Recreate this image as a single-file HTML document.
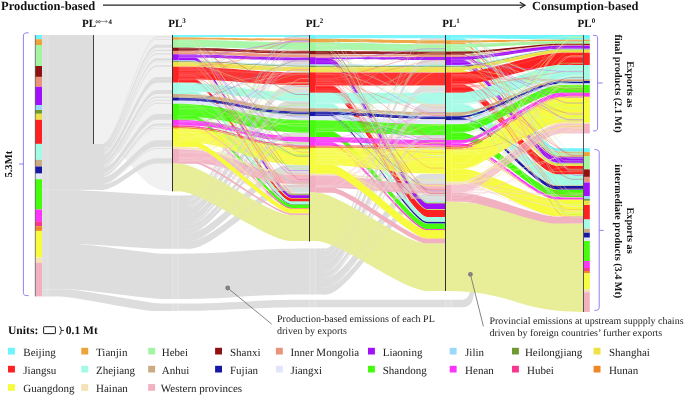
<!DOCTYPE html>
<html><head><meta charset="utf-8"><style>
html,body{margin:0;padding:0;background:#fff;}
svg{display:block;font-family:"Liberation Serif",serif;will-change:transform;text-rendering:geometricPrecision;}
</style></head><body>
<svg width="685" height="396" viewBox="0 0 685 396">
<rect width="685" height="396" fill="#fff"/>
<path d="M93.5,35 L172.5,35 L172.5,191.3 C133.0,191.30 133.0,144.00 93.5,144.00 Z" fill="#f1f1f1"/>
<rect x="42" y="35" width="51.5" height="109.2" fill="#dcdddc"/>
<rect x="42" y="144" width="62" height="45.8" fill="#dcdddc"/>
<path d="M98.0,144.00 L102.0,144.00 C118.3,144.00 140.2,36.54 156.5,36.54 L172.5,36.54 L172.5,37.40 L156.5,37.40 C140.2,37.40 118.3,144.86 102.0,144.86 L98.0,144.86Z" fill="#dcdddc"/>
<path d="M98.0,144.86 L102.0,144.86 C118.3,144.86 140.2,38.88 156.5,38.88 L172.5,38.88 L172.5,39.70 L156.5,39.70 C140.2,39.70 118.3,145.68 102.0,145.68 L98.0,145.68Z" fill="#dcdddc"/>
<path d="M98.0,145.68 L102.0,145.68 C118.3,145.68 140.2,44.85 156.5,44.85 L172.5,44.85 L172.5,47.70 L156.5,47.70 C140.2,47.70 118.3,148.53 102.0,148.53 L98.0,148.53Z" fill="#dcdddc"/>
<path d="M98.0,148.53 L102.0,148.53 C118.3,148.53 140.2,49.76 156.5,49.76 L172.5,49.76 L172.5,50.90 L156.5,50.90 C140.2,50.90 118.3,149.67 102.0,149.67 L98.0,149.67Z" fill="#dcdddc"/>
<path d="M98.0,149.67 L102.0,149.67 C118.3,149.67 140.2,53.15 156.5,53.15 L172.5,53.15 L172.5,54.40 L156.5,54.40 C140.2,54.40 118.3,150.91 102.0,150.91 L98.0,150.91Z" fill="#dcdddc"/>
<path d="M98.0,150.91 L102.0,150.91 C118.3,150.91 140.2,58.26 156.5,58.26 L172.5,58.26 L172.5,60.40 L156.5,60.40 C140.2,60.40 118.3,153.05 102.0,153.05 L98.0,153.05Z" fill="#dcdddc"/>
<path d="M98.0,153.05 L102.0,153.05 C118.3,153.05 140.2,60.98 156.5,60.98 L172.5,60.98 L172.5,61.30 L156.5,61.30 C140.2,61.30 118.3,153.37 102.0,153.37 L98.0,153.37Z" fill="#dcdddc"/>
<path d="M98.0,153.37 L102.0,153.37 C118.3,153.37 140.2,61.88 156.5,61.88 L172.5,61.88 L172.5,62.20 L156.5,62.20 C140.2,62.20 118.3,153.69 102.0,153.69 L98.0,153.69Z" fill="#dcdddc"/>
<path d="M98.0,153.69 L102.0,153.69 C118.3,153.69 140.2,65.16 156.5,65.16 L172.5,65.16 L172.5,66.80 L156.5,66.80 C140.2,66.80 118.3,155.33 102.0,155.33 L98.0,155.33Z" fill="#dcdddc"/>
<path d="M98.0,155.33 L102.0,155.33 C118.3,155.33 140.2,77.03 156.5,77.03 L172.5,77.03 L172.5,82.70 L156.5,82.70 C140.2,82.70 118.3,161.00 102.0,161.00 L98.0,161.00Z" fill="#dcdddc"/>
<path d="M98.0,161.00 L102.0,161.00 C118.3,161.00 140.2,89.97 156.5,89.97 L172.5,89.97 L172.5,94.00 L156.5,94.00 C140.2,94.00 118.3,165.03 102.0,165.03 L98.0,165.03Z" fill="#dcdddc"/>
<path d="M98.0,165.03 L102.0,165.03 C118.3,165.03 140.2,96.38 156.5,96.38 L172.5,96.38 L172.5,97.70 L156.5,97.70 C140.2,97.70 118.3,166.35 102.0,166.35 L98.0,166.35Z" fill="#dcdddc"/>
<path d="M98.0,166.35 L102.0,166.35 C118.3,166.35 140.2,99.63 156.5,99.63 L172.5,99.63 L172.5,100.70 L156.5,100.70 C140.2,100.70 118.3,167.42 102.0,167.42 L98.0,167.42Z" fill="#dcdddc"/>
<path d="M98.0,167.42 L102.0,167.42 C118.3,167.42 140.2,102.70 156.5,102.70 L172.5,102.70 L172.5,103.80 L156.5,103.80 C140.2,103.80 118.3,168.52 102.0,168.52 L98.0,168.52Z" fill="#dcdddc"/>
<path d="M98.0,168.52 L102.0,168.52 C118.3,168.52 140.2,114.10 156.5,114.10 L172.5,114.10 L172.5,119.80 L156.5,119.80 C140.2,119.80 118.3,174.22 102.0,174.22 L98.0,174.22Z" fill="#dcdddc"/>
<path d="M98.0,174.22 L102.0,174.22 C118.3,174.22 140.2,123.40 156.5,123.40 L172.5,123.40 L172.5,125.40 L156.5,125.40 C140.2,125.40 118.3,176.22 102.0,176.22 L98.0,176.22Z" fill="#dcdddc"/>
<path d="M98.0,176.22 L102.0,176.22 C118.3,176.22 140.2,126.43 156.5,126.43 L172.5,126.43 L172.5,127.00 L156.5,127.00 C140.2,127.00 118.3,176.79 102.0,176.79 L98.0,176.79Z" fill="#dcdddc"/>
<path d="M98.0,176.79 L102.0,176.79 C118.3,176.79 140.2,128.03 156.5,128.03 L172.5,128.03 L172.5,128.60 L156.5,128.60 C140.2,128.60 118.3,177.36 102.0,177.36 L98.0,177.36Z" fill="#dcdddc"/>
<path d="M98.0,177.36 L102.0,177.36 C118.3,177.36 140.2,140.25 156.5,140.25 L172.5,140.25 L172.5,146.70 L156.5,146.70 C140.2,146.70 118.3,183.81 102.0,183.81 L98.0,183.81Z" fill="#dcdddc"/>
<path d="M98.0,183.81 L102.0,183.81 C118.3,183.81 140.2,148.18 156.5,148.18 L172.5,148.18 L172.5,149.00 L156.5,149.00 C140.2,149.00 118.3,184.63 102.0,184.63 L98.0,184.63Z" fill="#dcdddc"/>
<path d="M98.0,184.63 L102.0,184.63 C118.3,184.63 140.2,158.33 156.5,158.33 L172.5,158.33 L172.5,163.50 L156.5,163.50 C140.2,163.50 118.3,189.80 102.0,189.80 L98.0,189.80Z" fill="#dcdddc"/>
<path d="M42,289.6 L68,289.6 C82.1,289.60 147.9,303.60 162.0,303.60 L172,303.6 C240.5,303.60 240.5,299.80 309.0,299.80 L460,299.8 C467,299.8 470,297 470,288 L474,288 C474,300 472,307.3 462,307.3 L309,307.3 C240.5,307.30 240.5,311.00 172.0,311.00 L155,311 C140.8,311.00 74.2,296.40 60.0,296.40 L42,296.4 Z" fill="#dcdddc"/>
<path d="M42,244 L76,244 C89.3,244.00 151.7,253.80 165.0,253.80 L172,253.8 C240.5,253.80 240.5,248.60 309.0,248.60 L323,248.6 L323,294.4 L309,294.4 C240.5,294.40 240.5,299.00 172.0,299.00 L162,299 C148.5,299.00 85.5,289.60 72.0,289.60 L42,289.6 Z" fill="#dcdddc"/>
<path d="M42,189.8 L68,189.8 C83.3,189.80 154.7,195.40 170.0,195.40 L187,195.4 L187,248.7 L160,248.7 C147.4,248.70 88.6,244.00 76.0,244.00 L42,244 Z" fill="#dcdddc"/>
<rect x="172.5" y="195.6" width="6" height="53.0" fill="#fff" fill-opacity="0.07"/><line x1="172.5" y1="195.6" x2="172.5" y2="248.6" stroke="#fff" stroke-opacity="0.3" stroke-width="0.7"/><line x1="178.5" y1="195.6" x2="178.5" y2="248.6" stroke="#fff" stroke-opacity="0.3" stroke-width="0.7"/>
<rect x="172.5" y="253.9" width="6" height="44.99999999999997" fill="#fff" fill-opacity="0.07"/><line x1="172.5" y1="253.9" x2="172.5" y2="298.9" stroke="#fff" stroke-opacity="0.3" stroke-width="0.7"/><line x1="178.5" y1="253.9" x2="178.5" y2="298.9" stroke="#fff" stroke-opacity="0.3" stroke-width="0.7"/>
<rect x="172.5" y="303.7" width="6" height="7.199999999999989" fill="#fff" fill-opacity="0.07"/><line x1="172.5" y1="303.7" x2="172.5" y2="310.9" stroke="#fff" stroke-opacity="0.3" stroke-width="0.7"/><line x1="178.5" y1="303.7" x2="178.5" y2="310.9" stroke="#fff" stroke-opacity="0.3" stroke-width="0.7"/>
<rect x="309.5" y="248.8" width="6" height="45.5" fill="#fff" fill-opacity="0.07"/><line x1="309.5" y1="248.8" x2="309.5" y2="294.3" stroke="#fff" stroke-opacity="0.3" stroke-width="0.7"/><line x1="315.5" y1="248.8" x2="315.5" y2="294.3" stroke="#fff" stroke-opacity="0.3" stroke-width="0.7"/>
<rect x="309.5" y="300" width="6" height="7.199999999999989" fill="#fff" fill-opacity="0.07"/><line x1="309.5" y1="300" x2="309.5" y2="307.2" stroke="#fff" stroke-opacity="0.3" stroke-width="0.7"/><line x1="315.5" y1="300" x2="315.5" y2="307.2" stroke="#fff" stroke-opacity="0.3" stroke-width="0.7"/>
<rect x="445.5" y="299.9" width="6" height="7.2000000000000455" fill="#fff" fill-opacity="0.07"/><line x1="445.5" y1="299.9" x2="445.5" y2="307.1" stroke="#fff" stroke-opacity="0.3" stroke-width="0.7"/><line x1="451.5" y1="299.9" x2="451.5" y2="307.1" stroke="#fff" stroke-opacity="0.3" stroke-width="0.7"/>
<rect x="42" y="35" width="6" height="261.4" fill="#fff" fill-opacity="0.07"/><line x1="42" y1="35" x2="42" y2="296.4" stroke="#fff" stroke-opacity="0.3" stroke-width="0.7"/><line x1="48" y1="35" x2="48" y2="296.4" stroke="#fff" stroke-opacity="0.3" stroke-width="0.7"/>
<path d="M186.0,195.40 L190.0,195.40 C214.4,195.40 263.1,37.10 287.5,37.10 L309.5,37.10 L309.5,38.80 L287.5,38.80 C263.1,38.80 214.4,197.11 190.0,197.11 L186.0,197.11Z" fill="#dcdddc"/>
<path d="M186.0,197.11 L190.0,197.11 C214.4,197.11 263.1,40.80 287.5,40.80 L309.5,40.80 L309.5,42.40 L287.5,42.40 C263.1,42.40 214.4,198.71 190.0,198.71 L186.0,198.71Z" fill="#dcdddc"/>
<path d="M186.0,198.71 L190.0,198.71 C214.4,198.71 263.1,49.60 287.5,49.60 L309.5,49.60 L309.5,50.90 L287.5,50.90 C263.1,50.90 214.4,200.02 190.0,200.02 L186.0,200.02Z" fill="#dcdddc"/>
<path d="M186.0,200.02 L190.0,200.02 C214.4,200.02 263.1,53.80 287.5,53.80 L309.5,53.80 L309.5,54.40 L287.5,54.40 C263.1,54.40 214.4,200.62 190.0,200.62 L186.0,200.62Z" fill="#dcdddc"/>
<path d="M186.0,200.62 L190.0,200.62 C214.4,200.62 263.1,60.40 287.5,60.40 L309.5,60.40 L309.5,64.50 L287.5,64.50 C263.1,64.50 214.4,204.74 190.0,204.74 L186.0,204.74Z" fill="#dcdddc"/>
<path d="M186.0,204.74 L190.0,204.74 C214.4,204.74 263.1,65.20 287.5,65.20 L309.5,65.20 L309.5,65.80 L287.5,65.80 C263.1,65.80 214.4,205.34 190.0,205.34 L186.0,205.34Z" fill="#dcdddc"/>
<path d="M186.0,205.34 L190.0,205.34 C214.4,205.34 263.1,66.50 287.5,66.50 L309.5,66.50 L309.5,67.20 L287.5,67.20 C263.1,67.20 214.4,206.04 190.0,206.04 L186.0,206.04Z" fill="#dcdddc"/>
<path d="M186.0,206.04 L190.0,206.04 C214.4,206.04 263.1,71.40 287.5,71.40 L309.5,71.40 L309.5,72.50 L287.5,72.50 C263.1,72.50 214.4,207.14 190.0,207.14 L186.0,207.14Z" fill="#dcdddc"/>
<path d="M186.0,207.14 L190.0,207.14 C214.4,207.14 263.1,85.00 287.5,85.00 L309.5,85.00 L309.5,92.80 L287.5,92.80 C263.1,92.80 214.4,214.97 190.0,214.97 L186.0,214.97Z" fill="#dcdddc"/>
<path d="M186.0,214.97 L190.0,214.97 C214.4,214.97 263.1,101.30 287.5,101.30 L309.5,101.30 L309.5,108.30 L287.5,108.30 C263.1,108.30 214.4,222.00 190.0,222.00 L186.0,222.00Z" fill="#dcdddc"/>
<path d="M186.0,222.00 L190.0,222.00 C214.4,222.00 263.1,111.70 287.5,111.70 L309.5,111.70 L309.5,111.80 L287.5,111.80 C263.1,111.80 214.4,222.10 190.0,222.10 L186.0,222.10Z" fill="#dcdddc"/>
<path d="M186.0,222.10 L190.0,222.10 C214.4,222.10 263.1,114.40 287.5,114.40 L309.5,114.40 L309.5,116.20 L287.5,116.20 C263.1,116.20 214.4,223.91 190.0,223.91 L186.0,223.91Z" fill="#dcdddc"/>
<path d="M186.0,223.91 L190.0,223.91 C214.4,223.91 263.1,119.10 287.5,119.10 L309.5,119.10 L309.5,120.30 L287.5,120.30 C263.1,120.30 214.4,225.11 190.0,225.11 L186.0,225.11Z" fill="#dcdddc"/>
<path d="M186.0,225.11 L190.0,225.11 C214.4,225.11 263.1,132.70 287.5,132.70 L309.5,132.70 L309.5,137.00 L287.5,137.00 C263.1,137.00 214.4,229.43 190.0,229.43 L186.0,229.43Z" fill="#dcdddc"/>
<path d="M186.0,229.43 L190.0,229.43 C214.4,229.43 263.1,142.00 287.5,142.00 L309.5,142.00 L309.5,145.40 L287.5,145.40 C263.1,145.40 214.4,232.84 190.0,232.84 L186.0,232.84Z" fill="#dcdddc"/>
<path d="M186.0,232.84 L190.0,232.84 C214.4,232.84 263.1,165.30 287.5,165.30 L309.5,165.30 L309.5,173.50 L287.5,173.50 C263.1,173.50 214.4,241.07 190.0,241.07 L186.0,241.07Z" fill="#dcdddc"/>
<path d="M186.0,241.07 L190.0,241.07 C214.4,241.07 263.1,184.80 287.5,184.80 L309.5,184.80 L309.5,192.40 L287.5,192.40 C263.1,192.40 214.4,248.70 190.0,248.70 L186.0,248.70Z" fill="#dcdddc"/>
<path d="M322.0,248.60 L326.0,248.60 C350.4,248.60 399.1,38.20 423.5,38.20 L445.5,38.20 L445.5,40.30 L423.5,40.30 C399.1,40.30 350.4,250.48 326.0,250.48 L322.0,250.48Z" fill="#dcdddc"/>
<path d="M322.0,250.48 L326.0,250.48 C350.4,250.48 399.1,43.60 423.5,43.60 L445.5,43.60 L445.5,44.20 L423.5,44.20 C399.1,44.20 350.4,251.02 326.0,251.02 L322.0,251.02Z" fill="#dcdddc"/>
<path d="M322.0,251.02 L326.0,251.02 C350.4,251.02 399.1,60.00 423.5,60.00 L445.5,60.00 L445.5,65.00 L423.5,65.00 C399.1,65.00 350.4,255.50 326.0,255.50 L322.0,255.50Z" fill="#dcdddc"/>
<path d="M322.0,255.50 L326.0,255.50 C350.4,255.50 399.1,66.10 423.5,66.10 L445.5,66.10 L445.5,66.20 L423.5,66.20 C399.1,66.20 350.4,255.59 326.0,255.59 L322.0,255.59Z" fill="#dcdddc"/>
<path d="M322.0,255.59 L326.0,255.59 C350.4,255.59 399.1,72.00 423.5,72.00 L445.5,72.00 L445.5,72.50 L423.5,72.50 C399.1,72.50 350.4,256.04 326.0,256.04 L322.0,256.04Z" fill="#dcdddc"/>
<path d="M322.0,256.04 L326.0,256.04 C350.4,256.04 399.1,85.60 423.5,85.60 L445.5,85.60 L445.5,92.80 L423.5,92.80 C399.1,92.80 350.4,262.49 326.0,262.49 L322.0,262.49Z" fill="#dcdddc"/>
<path d="M322.0,262.49 L326.0,262.49 C350.4,262.49 399.1,103.40 423.5,103.40 L445.5,103.40 L445.5,112.30 L423.5,112.30 C399.1,112.30 350.4,270.47 326.0,270.47 L322.0,270.47Z" fill="#dcdddc"/>
<path d="M322.0,270.47 L326.0,270.47 C350.4,270.47 399.1,115.50 423.5,115.50 L445.5,115.50 L445.5,116.20 L423.5,116.20 C399.1,116.20 350.4,271.10 326.0,271.10 L322.0,271.10Z" fill="#dcdddc"/>
<path d="M322.0,271.10 L326.0,271.10 C350.4,271.10 399.1,119.10 423.5,119.10 L445.5,119.10 L445.5,120.30 L423.5,120.30 C399.1,120.30 350.4,272.17 326.0,272.17 L322.0,272.17Z" fill="#dcdddc"/>
<path d="M322.0,272.17 L326.0,272.17 C350.4,272.17 399.1,135.30 423.5,135.30 L445.5,135.30 L445.5,140.10 L423.5,140.10 C399.1,140.10 350.4,276.47 326.0,276.47 L322.0,276.47Z" fill="#dcdddc"/>
<path d="M322.0,276.47 L326.0,276.47 C350.4,276.47 399.1,146.60 423.5,146.60 L445.5,146.60 L445.5,147.20 L423.5,147.20 C399.1,147.20 350.4,277.01 326.0,277.01 L322.0,277.01Z" fill="#dcdddc"/>
<path d="M322.0,277.01 L326.0,277.01 C350.4,277.01 399.1,148.30 423.5,148.30 L445.5,148.30 L445.5,149.50 L423.5,149.50 C399.1,149.50 350.4,278.09 326.0,278.09 L322.0,278.09Z" fill="#dcdddc"/>
<path d="M322.0,278.09 L326.0,278.09 C350.4,278.09 399.1,173.90 423.5,173.90 L445.5,173.90 L445.5,181.70 L423.5,181.70 C399.1,181.70 350.4,285.08 326.0,285.08 L322.0,285.08Z" fill="#dcdddc"/>
<path d="M322.0,285.08 L326.0,285.08 C350.4,285.08 399.1,182.00 423.5,182.00 L445.5,182.00 L445.5,184.70 L423.5,184.70 C399.1,184.70 350.4,287.50 326.0,287.50 L322.0,287.50Z" fill="#dcdddc"/>
<path d="M322.0,287.50 L326.0,287.50 C350.4,287.50 399.1,194.00 423.5,194.00 L445.5,194.00 L445.5,201.70 L423.5,201.70 C399.1,201.70 350.4,294.40 326.0,294.40 L322.0,294.40Z" fill="#dcdddc"/>
<path d="M178.5,37.10 L194.5,37.10 C212.0,37.10 274.0,193.60 291.5,193.60 L309.5,193.60 L309.5,193.86 L291.5,193.86 C274.0,193.86 212.0,37.40 194.5,37.40 L178.5,37.40Z" fill="#6ef4fb"/>
<path d="M178.5,39.40 L194.5,39.40 C212.0,39.40 274.0,193.86 291.5,193.86 L309.5,193.86 L309.5,194.12 L291.5,194.12 C274.0,194.12 212.0,39.70 194.5,39.70 L178.5,39.70Z" fill="#eda33a"/>
<path d="M178.5,46.90 L194.5,46.90 C212.0,46.90 274.0,194.12 291.5,194.12 L309.5,194.12 L309.5,194.81 L291.5,194.81 C274.0,194.81 212.0,47.70 194.5,47.70 L178.5,47.70Z" fill="#a3f5a3"/>
<path d="M178.5,50.60 L194.5,50.60 C212.0,50.60 274.0,194.81 291.5,194.81 L309.5,194.81 L309.5,195.07 L291.5,195.07 C274.0,195.07 212.0,50.90 194.5,50.90 L178.5,50.90Z" fill="#8e1212"/>
<path d="M178.5,53.90 L194.5,53.90 C212.0,53.90 274.0,195.07 291.5,195.07 L309.5,195.07 L309.5,195.33 L291.5,195.33 C274.0,195.33 212.0,54.40 194.5,54.40 L178.5,54.40Z" fill="#e8937a"/>
<path d="M178.5,57.40 L194.5,57.40 C212.0,57.40 274.0,195.33 291.5,195.33 L309.5,195.33 L309.5,197.93 L291.5,197.93 C274.0,197.93 212.0,60.40 194.5,60.40 L178.5,60.40Z" fill="#a010fc"/>
<path d="M178.5,61.10 L194.5,61.10 C212.0,61.10 274.0,197.93 291.5,197.93 L309.5,197.93 L309.5,198.11 L291.5,198.11 C274.0,198.11 212.0,61.30 194.5,61.30 L178.5,61.30Z" fill="#99d8fa"/>
<path d="M178.5,62.00 L194.5,62.00 C212.0,62.00 274.0,198.11 291.5,198.11 L309.5,198.11 L309.5,198.28 L291.5,198.28 C274.0,198.28 212.0,62.20 194.5,62.20 L178.5,62.20Z" fill="#6f9a32"/>
<path d="M178.5,66.40 L194.5,66.40 C212.0,66.40 274.0,198.28 291.5,198.28 L309.5,198.28 L309.5,198.63 L291.5,198.63 C274.0,198.63 212.0,66.80 194.5,66.80 L178.5,66.80Z" fill="#ede145"/>
<path d="M178.5,79.30 L194.5,79.30 C212.0,79.30 274.0,198.63 291.5,198.63 L309.5,198.63 L309.5,201.57 L291.5,201.57 C274.0,201.57 212.0,82.70 194.5,82.70 L178.5,82.70Z" fill="#ff2121"/>
<path d="M178.5,91.20 L194.5,91.20 C212.0,91.20 274.0,201.57 291.5,201.57 L309.5,201.57 L309.5,204.00 L291.5,204.00 C274.0,204.00 212.0,94.00 194.5,94.00 L178.5,94.00Z" fill="#a3fbe6"/>
<path d="M178.5,97.40 L194.5,97.40 C212.0,97.40 274.0,204.00 291.5,204.00 L309.5,204.00 L309.5,204.26 L291.5,204.26 C274.0,204.26 212.0,97.70 194.5,97.70 L178.5,97.70Z" fill="#cbab84"/>
<path d="M178.5,100.30 L194.5,100.30 C212.0,100.30 274.0,204.26 291.5,204.26 L309.5,204.26 L309.5,204.60 L291.5,204.60 C274.0,204.60 212.0,100.70 194.5,100.70 L178.5,100.70Z" fill="#1717a6"/>
<path d="M178.5,103.60 L194.5,103.60 C212.0,103.60 274.0,204.60 291.5,204.60 L309.5,204.60 L309.5,204.78 L291.5,204.78 C274.0,204.78 212.0,103.80 194.5,103.80 L178.5,103.80Z" fill="#e2e5fb"/>
<path d="M178.5,116.20 L194.5,116.20 C212.0,116.20 274.0,204.78 291.5,204.78 L309.5,204.78 L309.5,207.90 L291.5,207.90 C274.0,207.90 212.0,119.80 194.5,119.80 L178.5,119.80Z" fill="#45fc0c"/>
<path d="M178.5,124.80 L194.5,124.80 C212.0,124.80 274.0,207.90 291.5,207.90 L309.5,207.90 L309.5,208.42 L291.5,208.42 C274.0,208.42 212.0,125.40 194.5,125.40 L178.5,125.40Z" fill="#fb35fb"/>
<path d="M178.5,126.80 L194.5,126.80 C212.0,126.80 274.0,208.42 291.5,208.42 L309.5,208.42 L309.5,208.59 L291.5,208.59 C274.0,208.59 212.0,127.00 194.5,127.00 L178.5,127.00Z" fill="#f9378f"/>
<path d="M178.5,128.30 L194.5,128.30 C212.0,128.30 274.0,208.59 291.5,208.59 L309.5,208.59 L309.5,208.76 L291.5,208.76 C274.0,208.76 212.0,128.60 194.5,128.60 L178.5,128.60Z" fill="#ef8727"/>
<path d="M178.5,148.80 L194.5,148.80 C212.0,148.80 274.0,213.27 291.5,213.27 L309.5,213.27 L309.5,213.44 L291.5,213.44 C274.0,213.44 212.0,149.00 194.5,149.00 L178.5,149.00Z" fill="#f4e1b5"/>
<path d="M315.5,38.20 L331.5,38.20 C348.8,38.20 410.2,201.70 427.5,201.70 L445.5,201.70 L445.5,202.29 L427.5,202.29 C410.2,202.29 348.8,38.80 331.5,38.80 L315.5,38.80Z" fill="#6ef4fb"/>
<path d="M315.5,42.10 L331.5,42.10 C348.8,42.10 410.2,202.29 427.5,202.29 L445.5,202.29 L445.5,202.58 L427.5,202.58 C410.2,202.58 348.8,42.40 331.5,42.40 L315.5,42.40Z" fill="#eda33a"/>
<path d="M315.5,49.80 L331.5,49.80 C348.8,49.80 410.2,202.58 427.5,202.58 L445.5,202.58 L445.5,203.26 L427.5,203.26 C410.2,203.26 348.8,50.90 331.5,50.90 L315.5,50.90Z" fill="#a3f5a3"/>
<path d="M315.5,54.10 L331.5,54.10 C348.8,54.10 410.2,203.26 427.5,203.26 L445.5,203.26 L445.5,203.46 L427.5,203.46 C410.2,203.46 348.8,54.40 331.5,54.40 L315.5,54.40Z" fill="#8e1212"/>
<path d="M315.5,56.50 L331.5,56.50 C348.8,56.50 410.2,203.46 427.5,203.46 L445.5,203.46 L445.5,203.65 L427.5,203.65 C410.2,203.65 348.8,57.40 331.5,57.40 L315.5,57.40Z" fill="#e8937a"/>
<path d="M315.5,58.90 L331.5,58.90 C348.8,58.90 410.2,203.65 427.5,203.65 L445.5,203.65 L445.5,209.12 L427.5,209.12 C410.2,209.12 348.8,64.50 331.5,64.50 L315.5,64.50Z" fill="#a010fc"/>
<path d="M315.5,65.60 L331.5,65.60 C348.8,65.60 410.2,209.12 427.5,209.12 L445.5,209.12 L445.5,209.32 L427.5,209.32 C410.2,209.32 348.8,65.80 331.5,65.80 L315.5,65.80Z" fill="#99d8fa"/>
<path d="M315.5,66.80 L331.5,66.80 C348.8,66.80 410.2,209.32 427.5,209.32 L445.5,209.32 L445.5,209.51 L427.5,209.51 C410.2,209.51 348.8,67.20 331.5,67.20 L315.5,67.20Z" fill="#6f9a32"/>
<path d="M315.5,72.00 L331.5,72.00 C348.8,72.00 410.2,209.51 427.5,209.51 L445.5,209.51 L445.5,210.00 L427.5,210.00 C410.2,210.00 348.8,72.50 331.5,72.50 L315.5,72.50Z" fill="#ede145"/>
<path d="M315.5,85.60 L331.5,85.60 C348.8,85.60 410.2,210.00 427.5,210.00 L445.5,210.00 L445.5,217.03 L427.5,217.03 C410.2,217.03 348.8,92.80 331.5,92.80 L315.5,92.80Z" fill="#ff2121"/>
<path d="M315.5,103.40 L331.5,103.40 C348.8,103.40 410.2,217.03 427.5,217.03 L445.5,217.03 L445.5,221.82 L427.5,221.82 C410.2,221.82 348.8,108.30 331.5,108.30 L315.5,108.30Z" fill="#a3fbe6"/>
<path d="M315.5,111.50 L331.5,111.50 C348.8,111.50 410.2,221.82 427.5,221.82 L445.5,221.82 L445.5,222.11 L427.5,222.11 C410.2,222.11 348.8,111.80 331.5,111.80 L315.5,111.80Z" fill="#cbab84"/>
<path d="M315.5,114.70 L331.5,114.70 C348.8,114.70 410.2,222.11 427.5,222.11 L445.5,222.11 L445.5,223.57 L427.5,223.57 C410.2,223.57 348.8,116.20 331.5,116.20 L315.5,116.20Z" fill="#1717a6"/>
<path d="M315.5,120.10 L331.5,120.10 C348.8,120.10 410.2,223.57 427.5,223.57 L445.5,223.57 L445.5,223.77 L427.5,223.77 C410.2,223.77 348.8,120.30 331.5,120.30 L315.5,120.30Z" fill="#e2e5fb"/>
<path d="M315.5,131.40 L331.5,131.40 C348.8,131.40 410.2,223.77 427.5,223.77 L445.5,223.77 L445.5,229.24 L427.5,229.24 C410.2,229.24 348.8,137.00 331.5,137.00 L315.5,137.00Z" fill="#45fc0c"/>
<path d="M315.5,142.30 L331.5,142.30 C348.8,142.30 410.2,229.24 427.5,229.24 L445.5,229.24 L445.5,229.92 L427.5,229.92 C410.2,229.92 348.8,145.40 331.5,145.40 L315.5,145.40Z" fill="#fb35fb"/>
<path d="M315.5,146.60 L331.5,146.60 C348.8,146.60 410.2,229.92 427.5,229.92 L445.5,229.92 L445.5,230.12 L427.5,230.12 C410.2,230.12 348.8,146.80 331.5,146.80 L315.5,146.80Z" fill="#f9378f"/>
<path d="M315.5,147.90 L331.5,147.90 C348.8,147.90 410.2,230.12 427.5,230.12 L445.5,230.12 L445.5,230.31 L427.5,230.31 C410.2,230.31 348.8,148.10 331.5,148.10 L315.5,148.10Z" fill="#ef8727"/>
<path d="M315.5,175.30 L331.5,175.30 C348.8,175.30 410.2,238.52 427.5,238.52 L445.5,238.52 L445.5,238.81 L427.5,238.81 C410.2,238.81 348.8,175.60 331.5,175.60 L315.5,175.60Z" fill="#f4e1b5"/>
<path d="M172.5,35.00 C241.0,35.00 241.0,35.00 309.5,35.00 L309.5,37.10 C241.0,37.10 241.0,37.10 172.5,37.10Z" fill="#6ef4fb" fill-opacity="0.92"/>
<path d="M172.5,37.40 C241.0,37.40 241.0,38.80 309.5,38.80 L309.5,40.80 C241.0,40.80 241.0,39.40 172.5,39.40Z" fill="#eda33a" fill-opacity="0.92"/>
<path d="M172.5,39.70 C241.0,39.70 241.0,42.40 309.5,42.40 L309.5,49.60 C241.0,49.60 241.0,46.90 172.5,46.90Z" fill="#a3f5a3" fill-opacity="0.92"/>
<path d="M172.5,47.70 C241.0,47.70 241.0,50.90 309.5,50.90 L309.5,53.80 C241.0,53.80 241.0,50.60 172.5,50.60Z" fill="#8e1212" fill-opacity="0.92"/>
<path d="M172.5,50.90 C241.0,50.90 241.0,54.40 309.5,54.40 L309.5,57.40 C241.0,57.40 241.0,53.90 172.5,53.90Z" fill="#e8937a" fill-opacity="0.92"/>
<path d="M172.5,54.40 C241.0,54.40 241.0,57.40 309.5,57.40 L309.5,60.40 C241.0,60.40 241.0,57.40 172.5,57.40Z" fill="#a010fc" fill-opacity="0.92"/>
<path d="M172.5,60.40 C241.0,60.40 241.0,64.50 309.5,64.50 L309.5,65.20 C241.0,65.20 241.0,61.10 172.5,61.10Z" fill="#99d8fa" fill-opacity="0.92"/>
<path d="M172.5,61.30 C241.0,61.30 241.0,65.80 309.5,65.80 L309.5,66.50 C241.0,66.50 241.0,62.00 172.5,62.00Z" fill="#6f9a32" fill-opacity="0.92"/>
<path d="M172.5,62.20 C241.0,62.20 241.0,67.20 309.5,67.20 L309.5,71.40 C241.0,71.40 241.0,66.40 172.5,66.40Z" fill="#ede145" fill-opacity="0.92"/>
<path d="M172.5,66.80 C241.0,66.80 241.0,72.50 309.5,72.50 L309.5,85.00 C241.0,85.00 241.0,79.30 172.5,79.30Z" fill="#ff2121" fill-opacity="0.92"/>
<path d="M172.5,82.70 C241.0,82.70 241.0,92.80 309.5,92.80 L309.5,101.30 C241.0,101.30 241.0,91.20 172.5,91.20Z" fill="#a3fbe6" fill-opacity="0.92"/>
<path d="M172.5,94.00 C241.0,94.00 241.0,108.30 309.5,108.30 L309.5,111.70 C241.0,111.70 241.0,97.40 172.5,97.40Z" fill="#cbab84" fill-opacity="0.92"/>
<path d="M172.5,97.70 C241.0,97.70 241.0,111.80 309.5,111.80 L309.5,114.40 C241.0,114.40 241.0,100.30 172.5,100.30Z" fill="#1717a6" fill-opacity="0.92"/>
<path d="M172.5,100.70 C241.0,100.70 241.0,116.20 309.5,116.20 L309.5,119.10 C241.0,119.10 241.0,103.60 172.5,103.60Z" fill="#e2e5fb" fill-opacity="0.92"/>
<path d="M172.5,103.80 C241.0,103.80 241.0,120.30 309.5,120.30 L309.5,132.70 C241.0,132.70 241.0,116.20 172.5,116.20Z" fill="#45fc0c" fill-opacity="0.92"/>
<path d="M172.5,119.80 C241.0,119.80 241.0,137.00 309.5,137.00 L309.5,142.00 C241.0,142.00 241.0,124.80 172.5,124.80Z" fill="#fb35fb" fill-opacity="0.92"/>
<path d="M172.5,125.40 C241.0,125.40 241.0,145.40 309.5,145.40 L309.5,146.80 C241.0,146.80 241.0,126.80 172.5,126.80Z" fill="#f9378f" fill-opacity="0.92"/>
<path d="M172.5,127.00 C241.0,127.00 241.0,146.80 309.5,146.80 L309.5,148.10 C241.0,148.10 241.0,128.30 172.5,128.30Z" fill="#ef8727" fill-opacity="0.92"/>
<path d="M172.5,128.60 C241.0,128.60 241.0,148.10 309.5,148.10 L309.5,165.30 C241.0,165.30 241.0,141.50 172.5,141.50Z" fill="#f6fb3e" fill-opacity="0.92"/>
<path d="M172.5,146.70 C241.0,146.70 241.0,173.50 309.5,173.50 L309.5,175.60 C241.0,175.60 241.0,148.80 172.5,148.80Z" fill="#f4e1b5" fill-opacity="0.92"/>
<path d="M172.5,149.00 C241.0,149.00 241.0,175.60 309.5,175.60 L309.5,184.80 C241.0,184.80 241.0,161.70 172.5,161.70Z" fill="#f2b1c1" fill-opacity="0.92"/>
<path d="M309.5,35.00 C377.5,35.00 377.5,35.00 445.5,35.00 L445.5,38.20 C377.5,38.20 377.5,38.20 309.5,38.20Z" fill="#6ef4fb" fill-opacity="0.92"/>
<path d="M309.5,38.80 C377.5,38.80 377.5,40.30 445.5,40.30 L445.5,43.60 C377.5,43.60 377.5,42.10 309.5,42.10Z" fill="#eda33a" fill-opacity="0.92"/>
<path d="M309.5,42.40 C377.5,42.40 377.5,44.20 445.5,44.20 L445.5,51.60 C377.5,51.60 377.5,49.80 309.5,49.80Z" fill="#a3f5a3" fill-opacity="0.92"/>
<path d="M309.5,50.90 C377.5,50.90 377.5,51.60 445.5,51.60 L445.5,54.80 C377.5,54.80 377.5,54.10 309.5,54.10Z" fill="#8e1212" fill-opacity="0.92"/>
<path d="M309.5,54.40 C377.5,54.40 377.5,54.80 445.5,54.80 L445.5,56.90 C377.5,56.90 377.5,56.50 309.5,56.50Z" fill="#e8937a" fill-opacity="0.92"/>
<path d="M309.5,57.40 C377.5,57.40 377.5,56.90 445.5,56.90 L445.5,60.00 C377.5,60.00 377.5,58.90 309.5,58.90Z" fill="#a010fc" fill-opacity="0.92"/>
<path d="M309.5,64.50 C377.5,64.50 377.5,65.00 445.5,65.00 L445.5,66.10 C377.5,66.10 377.5,65.60 309.5,65.60Z" fill="#99d8fa" fill-opacity="0.92"/>
<path d="M309.5,65.80 C377.5,65.80 377.5,66.20 445.5,66.20 L445.5,67.20 C377.5,67.20 377.5,66.80 309.5,66.80Z" fill="#6f9a32" fill-opacity="0.92"/>
<path d="M309.5,67.20 C377.5,67.20 377.5,67.20 445.5,67.20 L445.5,72.00 C377.5,72.00 377.5,72.00 309.5,72.00Z" fill="#ede145" fill-opacity="0.92"/>
<path d="M309.5,72.50 C377.5,72.50 377.5,72.50 445.5,72.50 L445.5,85.60 C377.5,85.60 377.5,85.60 309.5,85.60Z" fill="#ff2121" fill-opacity="0.92"/>
<path d="M309.5,92.80 C377.5,92.80 377.5,92.80 445.5,92.80 L445.5,103.40 C377.5,103.40 377.5,103.40 309.5,103.40Z" fill="#a3fbe6" fill-opacity="0.92"/>
<path d="M309.5,108.30 C377.5,108.30 377.5,112.30 445.5,112.30 L445.5,115.50 C377.5,115.50 377.5,111.50 309.5,111.50Z" fill="#cbab84" fill-opacity="0.92"/>
<path d="M309.5,111.80 C377.5,111.80 377.5,116.20 445.5,116.20 L445.5,119.10 C377.5,119.10 377.5,114.70 309.5,114.70Z" fill="#1717a6" fill-opacity="0.92"/>
<path d="M309.5,116.20 C377.5,116.20 377.5,120.30 445.5,120.30 L445.5,124.20 C377.5,124.20 377.5,120.10 309.5,120.10Z" fill="#e2e5fb" fill-opacity="0.92"/>
<path d="M309.5,120.30 C377.5,120.30 377.5,124.20 445.5,124.20 L445.5,135.30 C377.5,135.30 377.5,131.40 309.5,131.40Z" fill="#45fc0c" fill-opacity="0.92"/>
<path d="M309.5,137.00 C377.5,137.00 377.5,140.10 445.5,140.10 L445.5,145.40 C377.5,145.40 377.5,142.30 309.5,142.30Z" fill="#fb35fb" fill-opacity="0.92"/>
<path d="M309.5,145.40 C377.5,145.40 377.5,145.40 445.5,145.40 L445.5,146.60 C377.5,146.60 377.5,146.60 309.5,146.60Z" fill="#f9378f" fill-opacity="0.92"/>
<path d="M309.5,146.80 C377.5,146.80 377.5,147.20 445.5,147.20 L445.5,148.30 C377.5,148.30 377.5,147.90 309.5,147.90Z" fill="#ef8727" fill-opacity="0.92"/>
<path d="M309.5,148.10 C377.5,148.10 377.5,149.50 445.5,149.50 L445.5,173.90 C377.5,173.90 377.5,165.10 309.5,165.10Z" fill="#f6fb3e" fill-opacity="0.92"/>
<path d="M309.5,173.50 C377.5,173.50 377.5,181.70 445.5,181.70 L445.5,182.00 C377.5,182.00 377.5,175.30 309.5,175.30Z" fill="#f4e1b5" fill-opacity="0.92"/>
<path d="M309.5,175.60 C377.5,175.60 377.5,184.70 445.5,184.70 L445.5,194.00 C377.5,194.00 377.5,187.80 309.5,187.80Z" fill="#f2b1c1" fill-opacity="0.92"/>
<path d="M178.5,141.50 L194.5,141.50 C212.0,141.50 274.0,208.76 291.5,208.76 L309.5,208.76 L309.5,213.27 L291.5,213.27 C274.0,213.27 212.0,146.70 194.5,146.70 L178.5,146.70Z" fill="#f6fb3e"/>
<path d="M178.5,161.70 L194.5,161.70 C212.0,161.70 274.0,213.44 291.5,213.44 L309.5,213.44 L309.5,215.00 L291.5,215.00 C274.0,215.00 212.0,163.50 194.5,163.50 L178.5,163.50Z" fill="#f2b1c1"/>
<path d="M315.5,165.10 L331.5,165.10 C348.8,165.10 410.2,230.31 427.5,230.31 L445.5,230.31 L445.5,238.52 L427.5,238.52 C410.2,238.52 348.8,173.50 331.5,173.50 L315.5,173.50Z" fill="#f6fb3e"/>
<path d="M315.5,187.80 L331.5,187.80 C348.8,187.80 410.2,238.81 427.5,238.81 L445.5,238.81 L445.5,243.30 L427.5,243.30 C410.2,243.30 348.8,192.40 331.5,192.40 L315.5,192.40Z" fill="#f2b1c1"/>
<g opacity="0.4">
<path d="M186.0,195.40 L190.0,195.40 C214.4,195.40 263.1,37.10 287.5,37.10 L309.5,37.10 L309.5,38.80 L287.5,38.80 C263.1,38.80 214.4,197.11 190.0,197.11 L186.0,197.11Z" fill="#dcdddc"/>
<path d="M186.0,197.11 L190.0,197.11 C214.4,197.11 263.1,40.80 287.5,40.80 L309.5,40.80 L309.5,42.40 L287.5,42.40 C263.1,42.40 214.4,198.71 190.0,198.71 L186.0,198.71Z" fill="#dcdddc"/>
<path d="M186.0,198.71 L190.0,198.71 C214.4,198.71 263.1,49.60 287.5,49.60 L309.5,49.60 L309.5,50.90 L287.5,50.90 C263.1,50.90 214.4,200.02 190.0,200.02 L186.0,200.02Z" fill="#dcdddc"/>
<path d="M186.0,200.02 L190.0,200.02 C214.4,200.02 263.1,53.80 287.5,53.80 L309.5,53.80 L309.5,54.40 L287.5,54.40 C263.1,54.40 214.4,200.62 190.0,200.62 L186.0,200.62Z" fill="#dcdddc"/>
<path d="M186.0,200.62 L190.0,200.62 C214.4,200.62 263.1,60.40 287.5,60.40 L309.5,60.40 L309.5,64.50 L287.5,64.50 C263.1,64.50 214.4,204.74 190.0,204.74 L186.0,204.74Z" fill="#dcdddc"/>
<path d="M186.0,204.74 L190.0,204.74 C214.4,204.74 263.1,65.20 287.5,65.20 L309.5,65.20 L309.5,65.80 L287.5,65.80 C263.1,65.80 214.4,205.34 190.0,205.34 L186.0,205.34Z" fill="#dcdddc"/>
<path d="M186.0,205.34 L190.0,205.34 C214.4,205.34 263.1,66.50 287.5,66.50 L309.5,66.50 L309.5,67.20 L287.5,67.20 C263.1,67.20 214.4,206.04 190.0,206.04 L186.0,206.04Z" fill="#dcdddc"/>
<path d="M186.0,206.04 L190.0,206.04 C214.4,206.04 263.1,71.40 287.5,71.40 L309.5,71.40 L309.5,72.50 L287.5,72.50 C263.1,72.50 214.4,207.14 190.0,207.14 L186.0,207.14Z" fill="#dcdddc"/>
<path d="M186.0,207.14 L190.0,207.14 C214.4,207.14 263.1,85.00 287.5,85.00 L309.5,85.00 L309.5,92.80 L287.5,92.80 C263.1,92.80 214.4,214.97 190.0,214.97 L186.0,214.97Z" fill="#dcdddc"/>
<path d="M186.0,214.97 L190.0,214.97 C214.4,214.97 263.1,101.30 287.5,101.30 L309.5,101.30 L309.5,108.30 L287.5,108.30 C263.1,108.30 214.4,222.00 190.0,222.00 L186.0,222.00Z" fill="#dcdddc"/>
<path d="M186.0,222.00 L190.0,222.00 C214.4,222.00 263.1,111.70 287.5,111.70 L309.5,111.70 L309.5,111.80 L287.5,111.80 C263.1,111.80 214.4,222.10 190.0,222.10 L186.0,222.10Z" fill="#dcdddc"/>
<path d="M186.0,222.10 L190.0,222.10 C214.4,222.10 263.1,114.40 287.5,114.40 L309.5,114.40 L309.5,116.20 L287.5,116.20 C263.1,116.20 214.4,223.91 190.0,223.91 L186.0,223.91Z" fill="#dcdddc"/>
<path d="M186.0,223.91 L190.0,223.91 C214.4,223.91 263.1,119.10 287.5,119.10 L309.5,119.10 L309.5,120.30 L287.5,120.30 C263.1,120.30 214.4,225.11 190.0,225.11 L186.0,225.11Z" fill="#dcdddc"/>
<path d="M186.0,225.11 L190.0,225.11 C214.4,225.11 263.1,132.70 287.5,132.70 L309.5,132.70 L309.5,137.00 L287.5,137.00 C263.1,137.00 214.4,229.43 190.0,229.43 L186.0,229.43Z" fill="#dcdddc"/>
<path d="M186.0,229.43 L190.0,229.43 C214.4,229.43 263.1,142.00 287.5,142.00 L309.5,142.00 L309.5,145.40 L287.5,145.40 C263.1,145.40 214.4,232.84 190.0,232.84 L186.0,232.84Z" fill="#dcdddc"/>
<path d="M186.0,232.84 L190.0,232.84 C214.4,232.84 263.1,165.30 287.5,165.30 L309.5,165.30 L309.5,173.50 L287.5,173.50 C263.1,173.50 214.4,241.07 190.0,241.07 L186.0,241.07Z" fill="#dcdddc"/>
<path d="M186.0,241.07 L190.0,241.07 C214.4,241.07 263.1,184.80 287.5,184.80 L309.5,184.80 L309.5,192.40 L287.5,192.40 C263.1,192.40 214.4,248.70 190.0,248.70 L186.0,248.70Z" fill="#dcdddc"/>
<path d="M322.0,248.60 L326.0,248.60 C350.4,248.60 399.1,38.20 423.5,38.20 L445.5,38.20 L445.5,40.30 L423.5,40.30 C399.1,40.30 350.4,250.48 326.0,250.48 L322.0,250.48Z" fill="#dcdddc"/>
<path d="M322.0,250.48 L326.0,250.48 C350.4,250.48 399.1,43.60 423.5,43.60 L445.5,43.60 L445.5,44.20 L423.5,44.20 C399.1,44.20 350.4,251.02 326.0,251.02 L322.0,251.02Z" fill="#dcdddc"/>
<path d="M322.0,251.02 L326.0,251.02 C350.4,251.02 399.1,60.00 423.5,60.00 L445.5,60.00 L445.5,65.00 L423.5,65.00 C399.1,65.00 350.4,255.50 326.0,255.50 L322.0,255.50Z" fill="#dcdddc"/>
<path d="M322.0,255.50 L326.0,255.50 C350.4,255.50 399.1,66.10 423.5,66.10 L445.5,66.10 L445.5,66.20 L423.5,66.20 C399.1,66.20 350.4,255.59 326.0,255.59 L322.0,255.59Z" fill="#dcdddc"/>
<path d="M322.0,255.59 L326.0,255.59 C350.4,255.59 399.1,72.00 423.5,72.00 L445.5,72.00 L445.5,72.50 L423.5,72.50 C399.1,72.50 350.4,256.04 326.0,256.04 L322.0,256.04Z" fill="#dcdddc"/>
<path d="M322.0,256.04 L326.0,256.04 C350.4,256.04 399.1,85.60 423.5,85.60 L445.5,85.60 L445.5,92.80 L423.5,92.80 C399.1,92.80 350.4,262.49 326.0,262.49 L322.0,262.49Z" fill="#dcdddc"/>
<path d="M322.0,262.49 L326.0,262.49 C350.4,262.49 399.1,103.40 423.5,103.40 L445.5,103.40 L445.5,112.30 L423.5,112.30 C399.1,112.30 350.4,270.47 326.0,270.47 L322.0,270.47Z" fill="#dcdddc"/>
<path d="M322.0,270.47 L326.0,270.47 C350.4,270.47 399.1,115.50 423.5,115.50 L445.5,115.50 L445.5,116.20 L423.5,116.20 C399.1,116.20 350.4,271.10 326.0,271.10 L322.0,271.10Z" fill="#dcdddc"/>
<path d="M322.0,271.10 L326.0,271.10 C350.4,271.10 399.1,119.10 423.5,119.10 L445.5,119.10 L445.5,120.30 L423.5,120.30 C399.1,120.30 350.4,272.17 326.0,272.17 L322.0,272.17Z" fill="#dcdddc"/>
<path d="M322.0,272.17 L326.0,272.17 C350.4,272.17 399.1,135.30 423.5,135.30 L445.5,135.30 L445.5,140.10 L423.5,140.10 C399.1,140.10 350.4,276.47 326.0,276.47 L322.0,276.47Z" fill="#dcdddc"/>
<path d="M322.0,276.47 L326.0,276.47 C350.4,276.47 399.1,146.60 423.5,146.60 L445.5,146.60 L445.5,147.20 L423.5,147.20 C399.1,147.20 350.4,277.01 326.0,277.01 L322.0,277.01Z" fill="#dcdddc"/>
<path d="M322.0,277.01 L326.0,277.01 C350.4,277.01 399.1,148.30 423.5,148.30 L445.5,148.30 L445.5,149.50 L423.5,149.50 C399.1,149.50 350.4,278.09 326.0,278.09 L322.0,278.09Z" fill="#dcdddc"/>
<path d="M322.0,278.09 L326.0,278.09 C350.4,278.09 399.1,173.90 423.5,173.90 L445.5,173.90 L445.5,181.70 L423.5,181.70 C399.1,181.70 350.4,285.08 326.0,285.08 L322.0,285.08Z" fill="#dcdddc"/>
<path d="M322.0,285.08 L326.0,285.08 C350.4,285.08 399.1,182.00 423.5,182.00 L445.5,182.00 L445.5,184.70 L423.5,184.70 C399.1,184.70 350.4,287.50 326.0,287.50 L322.0,287.50Z" fill="#dcdddc"/>
<path d="M322.0,287.50 L326.0,287.50 C350.4,287.50 399.1,194.00 423.5,194.00 L445.5,194.00 L445.5,201.70 L423.5,201.70 C399.1,201.70 350.4,294.40 326.0,294.40 L322.0,294.40Z" fill="#dcdddc"/>
</g>
<path d="M172.5,163.50 L178.5,163.50 C203.4,163.50 266.6,215.00 291.5,215.00 L309.5,215.00 L309.5,241.00 L291.5,241.00 C266.6,241.00 203.4,191.30 178.5,191.30 L172.5,191.30Z" fill="#e8ee97"/>
<path d="M309.5,192.40 L315.5,192.40 C340.1,192.40 402.9,243.30 427.5,243.30 L445.5,243.30 L445.5,291.00 L427.5,291.00 C402.9,291.00 340.1,241.00 315.5,241.00 L309.5,241.00Z" fill="#e8ee97"/>
<g opacity="0.13">
<path d="M186.0,195.40 L190.0,195.40 C214.4,195.40 263.1,37.10 287.5,37.10 L309.5,37.10 L309.5,38.80 L287.5,38.80 C263.1,38.80 214.4,197.11 190.0,197.11 L186.0,197.11Z" fill="#dcdddc"/>
<path d="M186.0,197.11 L190.0,197.11 C214.4,197.11 263.1,40.80 287.5,40.80 L309.5,40.80 L309.5,42.40 L287.5,42.40 C263.1,42.40 214.4,198.71 190.0,198.71 L186.0,198.71Z" fill="#dcdddc"/>
<path d="M186.0,198.71 L190.0,198.71 C214.4,198.71 263.1,49.60 287.5,49.60 L309.5,49.60 L309.5,50.90 L287.5,50.90 C263.1,50.90 214.4,200.02 190.0,200.02 L186.0,200.02Z" fill="#dcdddc"/>
<path d="M186.0,200.02 L190.0,200.02 C214.4,200.02 263.1,53.80 287.5,53.80 L309.5,53.80 L309.5,54.40 L287.5,54.40 C263.1,54.40 214.4,200.62 190.0,200.62 L186.0,200.62Z" fill="#dcdddc"/>
<path d="M186.0,200.62 L190.0,200.62 C214.4,200.62 263.1,60.40 287.5,60.40 L309.5,60.40 L309.5,64.50 L287.5,64.50 C263.1,64.50 214.4,204.74 190.0,204.74 L186.0,204.74Z" fill="#dcdddc"/>
<path d="M186.0,204.74 L190.0,204.74 C214.4,204.74 263.1,65.20 287.5,65.20 L309.5,65.20 L309.5,65.80 L287.5,65.80 C263.1,65.80 214.4,205.34 190.0,205.34 L186.0,205.34Z" fill="#dcdddc"/>
<path d="M186.0,205.34 L190.0,205.34 C214.4,205.34 263.1,66.50 287.5,66.50 L309.5,66.50 L309.5,67.20 L287.5,67.20 C263.1,67.20 214.4,206.04 190.0,206.04 L186.0,206.04Z" fill="#dcdddc"/>
<path d="M186.0,206.04 L190.0,206.04 C214.4,206.04 263.1,71.40 287.5,71.40 L309.5,71.40 L309.5,72.50 L287.5,72.50 C263.1,72.50 214.4,207.14 190.0,207.14 L186.0,207.14Z" fill="#dcdddc"/>
<path d="M186.0,207.14 L190.0,207.14 C214.4,207.14 263.1,85.00 287.5,85.00 L309.5,85.00 L309.5,92.80 L287.5,92.80 C263.1,92.80 214.4,214.97 190.0,214.97 L186.0,214.97Z" fill="#dcdddc"/>
<path d="M186.0,214.97 L190.0,214.97 C214.4,214.97 263.1,101.30 287.5,101.30 L309.5,101.30 L309.5,108.30 L287.5,108.30 C263.1,108.30 214.4,222.00 190.0,222.00 L186.0,222.00Z" fill="#dcdddc"/>
<path d="M186.0,222.00 L190.0,222.00 C214.4,222.00 263.1,111.70 287.5,111.70 L309.5,111.70 L309.5,111.80 L287.5,111.80 C263.1,111.80 214.4,222.10 190.0,222.10 L186.0,222.10Z" fill="#dcdddc"/>
<path d="M186.0,222.10 L190.0,222.10 C214.4,222.10 263.1,114.40 287.5,114.40 L309.5,114.40 L309.5,116.20 L287.5,116.20 C263.1,116.20 214.4,223.91 190.0,223.91 L186.0,223.91Z" fill="#dcdddc"/>
<path d="M186.0,223.91 L190.0,223.91 C214.4,223.91 263.1,119.10 287.5,119.10 L309.5,119.10 L309.5,120.30 L287.5,120.30 C263.1,120.30 214.4,225.11 190.0,225.11 L186.0,225.11Z" fill="#dcdddc"/>
<path d="M186.0,225.11 L190.0,225.11 C214.4,225.11 263.1,132.70 287.5,132.70 L309.5,132.70 L309.5,137.00 L287.5,137.00 C263.1,137.00 214.4,229.43 190.0,229.43 L186.0,229.43Z" fill="#dcdddc"/>
<path d="M186.0,229.43 L190.0,229.43 C214.4,229.43 263.1,142.00 287.5,142.00 L309.5,142.00 L309.5,145.40 L287.5,145.40 C263.1,145.40 214.4,232.84 190.0,232.84 L186.0,232.84Z" fill="#dcdddc"/>
<path d="M186.0,232.84 L190.0,232.84 C214.4,232.84 263.1,165.30 287.5,165.30 L309.5,165.30 L309.5,173.50 L287.5,173.50 C263.1,173.50 214.4,241.07 190.0,241.07 L186.0,241.07Z" fill="#dcdddc"/>
<path d="M186.0,241.07 L190.0,241.07 C214.4,241.07 263.1,184.80 287.5,184.80 L309.5,184.80 L309.5,192.40 L287.5,192.40 C263.1,192.40 214.4,248.70 190.0,248.70 L186.0,248.70Z" fill="#dcdddc"/>
<path d="M322.0,248.60 L326.0,248.60 C350.4,248.60 399.1,38.20 423.5,38.20 L445.5,38.20 L445.5,40.30 L423.5,40.30 C399.1,40.30 350.4,250.48 326.0,250.48 L322.0,250.48Z" fill="#dcdddc"/>
<path d="M322.0,250.48 L326.0,250.48 C350.4,250.48 399.1,43.60 423.5,43.60 L445.5,43.60 L445.5,44.20 L423.5,44.20 C399.1,44.20 350.4,251.02 326.0,251.02 L322.0,251.02Z" fill="#dcdddc"/>
<path d="M322.0,251.02 L326.0,251.02 C350.4,251.02 399.1,60.00 423.5,60.00 L445.5,60.00 L445.5,65.00 L423.5,65.00 C399.1,65.00 350.4,255.50 326.0,255.50 L322.0,255.50Z" fill="#dcdddc"/>
<path d="M322.0,255.50 L326.0,255.50 C350.4,255.50 399.1,66.10 423.5,66.10 L445.5,66.10 L445.5,66.20 L423.5,66.20 C399.1,66.20 350.4,255.59 326.0,255.59 L322.0,255.59Z" fill="#dcdddc"/>
<path d="M322.0,255.59 L326.0,255.59 C350.4,255.59 399.1,72.00 423.5,72.00 L445.5,72.00 L445.5,72.50 L423.5,72.50 C399.1,72.50 350.4,256.04 326.0,256.04 L322.0,256.04Z" fill="#dcdddc"/>
<path d="M322.0,256.04 L326.0,256.04 C350.4,256.04 399.1,85.60 423.5,85.60 L445.5,85.60 L445.5,92.80 L423.5,92.80 C399.1,92.80 350.4,262.49 326.0,262.49 L322.0,262.49Z" fill="#dcdddc"/>
<path d="M322.0,262.49 L326.0,262.49 C350.4,262.49 399.1,103.40 423.5,103.40 L445.5,103.40 L445.5,112.30 L423.5,112.30 C399.1,112.30 350.4,270.47 326.0,270.47 L322.0,270.47Z" fill="#dcdddc"/>
<path d="M322.0,270.47 L326.0,270.47 C350.4,270.47 399.1,115.50 423.5,115.50 L445.5,115.50 L445.5,116.20 L423.5,116.20 C399.1,116.20 350.4,271.10 326.0,271.10 L322.0,271.10Z" fill="#dcdddc"/>
<path d="M322.0,271.10 L326.0,271.10 C350.4,271.10 399.1,119.10 423.5,119.10 L445.5,119.10 L445.5,120.30 L423.5,120.30 C399.1,120.30 350.4,272.17 326.0,272.17 L322.0,272.17Z" fill="#dcdddc"/>
<path d="M322.0,272.17 L326.0,272.17 C350.4,272.17 399.1,135.30 423.5,135.30 L445.5,135.30 L445.5,140.10 L423.5,140.10 C399.1,140.10 350.4,276.47 326.0,276.47 L322.0,276.47Z" fill="#dcdddc"/>
<path d="M322.0,276.47 L326.0,276.47 C350.4,276.47 399.1,146.60 423.5,146.60 L445.5,146.60 L445.5,147.20 L423.5,147.20 C399.1,147.20 350.4,277.01 326.0,277.01 L322.0,277.01Z" fill="#dcdddc"/>
<path d="M322.0,277.01 L326.0,277.01 C350.4,277.01 399.1,148.30 423.5,148.30 L445.5,148.30 L445.5,149.50 L423.5,149.50 C399.1,149.50 350.4,278.09 326.0,278.09 L322.0,278.09Z" fill="#dcdddc"/>
<path d="M322.0,278.09 L326.0,278.09 C350.4,278.09 399.1,173.90 423.5,173.90 L445.5,173.90 L445.5,181.70 L423.5,181.70 C399.1,181.70 350.4,285.08 326.0,285.08 L322.0,285.08Z" fill="#dcdddc"/>
<path d="M322.0,285.08 L326.0,285.08 C350.4,285.08 399.1,182.00 423.5,182.00 L445.5,182.00 L445.5,184.70 L423.5,184.70 C399.1,184.70 350.4,287.50 326.0,287.50 L322.0,287.50Z" fill="#dcdddc"/>
<path d="M322.0,287.50 L326.0,287.50 C350.4,287.50 399.1,194.00 423.5,194.00 L445.5,194.00 L445.5,201.70 L423.5,201.70 C399.1,201.70 350.4,294.40 326.0,294.40 L322.0,294.40Z" fill="#dcdddc"/>
</g>
<path d="M445.5,201.70 C514.5,201.70 514.5,223.60 583.5,223.60 L583.5,311.90 C514.5,311.90 514.5,291.00 445.5,291.00Z" fill="#e8ee97"/>
<path d="M451.5,193.00 L461.5,193.00 C485.5,193.00 533.5,216.40 557.5,216.40 L583.5,216.40 L583.5,223.60 L557.5,223.60 C533.5,223.60 485.5,201.70 461.5,201.70 L451.5,201.70Z" fill="#f2b1c1"/>
<path d="M451.5,183.99 L461.5,183.99 C485.5,183.99 533.5,216.00 557.5,216.00 L583.5,216.00 L583.5,216.40 L557.5,216.40 C533.5,216.40 485.5,184.70 461.5,184.70 L451.5,184.70Z" fill="#f4e1b5"/>
<path d="M451.5,169.10 L461.5,169.10 C485.5,169.10 533.5,199.60 557.5,199.60 L583.5,199.60 L583.5,216.00 L557.5,216.00 C533.5,216.00 485.5,181.70 461.5,181.70 L451.5,181.70Z" fill="#f6fb3e"/>
<path d="M451.5,148.73 L461.5,148.73 C485.5,148.73 533.5,199.40 557.5,199.40 L583.5,199.40 L583.5,199.60 L557.5,199.60 C533.5,199.60 485.5,149.50 461.5,149.50 L451.5,149.50Z" fill="#ef8727"/>
<path d="M451.5,146.60 L461.5,146.60 C485.5,146.60 533.5,199.20 557.5,199.20 L583.5,199.20 L583.5,199.40 L557.5,199.40 C533.5,199.40 485.5,147.20 461.5,147.20 L451.5,147.20Z" fill="#f9378f"/>
<path d="M451.5,143.39 L461.5,143.39 C485.5,143.39 533.5,197.00 557.5,197.00 L583.5,197.00 L583.5,199.20 L557.5,199.20 C533.5,199.20 485.5,145.40 461.5,145.40 L451.5,145.40Z" fill="#fb35fb"/>
<path d="M451.5,132.46 L461.5,132.46 C485.5,132.46 533.5,189.70 557.5,189.70 L583.5,189.70 L583.5,197.00 L557.5,197.00 C533.5,197.00 485.5,140.10 461.5,140.10 L451.5,140.10Z" fill="#45fc0c"/>
<path d="M451.5,123.71 L461.5,123.71 C485.5,123.71 533.5,189.50 557.5,189.50 L583.5,189.50 L583.5,189.70 L557.5,189.70 C533.5,189.70 485.5,124.20 461.5,124.20 L451.5,124.20Z" fill="#e2e5fb"/>
<path d="M451.5,117.91 L461.5,117.91 C485.5,117.91 533.5,186.00 557.5,186.00 L583.5,186.00 L583.5,189.50 L557.5,189.50 C533.5,189.50 485.5,120.30 461.5,120.30 L451.5,120.30Z" fill="#1717a6"/>
<path d="M451.5,115.11 L461.5,115.11 C485.5,115.11 533.5,185.30 557.5,185.30 L583.5,185.30 L583.5,186.00 L557.5,186.00 C533.5,186.00 485.5,116.20 461.5,116.20 L451.5,116.20Z" fill="#cbab84"/>
<path d="M451.5,103.79 L461.5,103.79 C485.5,103.79 533.5,174.30 557.5,174.30 L583.5,174.30 L583.5,185.30 L557.5,185.30 C533.5,185.30 485.5,112.30 461.5,112.30 L451.5,112.30Z" fill="#a3fbe6"/>
<path d="M451.5,84.56 L461.5,84.56 C485.5,84.56 533.5,165.90 557.5,165.90 L583.5,165.90 L583.5,174.30 L557.5,174.30 C533.5,174.30 485.5,92.80 461.5,92.80 L451.5,92.80Z" fill="#ff2121"/>
<path d="M451.5,70.10 L461.5,70.10 C485.5,70.10 533.5,163.50 557.5,163.50 L583.5,163.50 L583.5,165.90 L557.5,165.90 C533.5,165.90 485.5,72.50 461.5,72.50 L451.5,72.50Z" fill="#ede145"/>
<path d="M451.5,66.76 L461.5,66.76 C485.5,66.76 533.5,163.10 557.5,163.10 L583.5,163.10 L583.5,163.50 L557.5,163.50 C533.5,163.50 485.5,67.20 461.5,67.20 L451.5,67.20Z" fill="#6f9a32"/>
<path d="M451.5,65.67 L461.5,65.67 C485.5,65.67 533.5,162.70 557.5,162.70 L583.5,162.70 L583.5,163.10 L557.5,163.10 C533.5,163.10 485.5,66.20 461.5,66.20 L451.5,66.20Z" fill="#99d8fa"/>
<path d="M451.5,59.81 L461.5,59.81 C485.5,59.81 533.5,157.00 557.5,157.00 L583.5,157.00 L583.5,162.70 L557.5,162.70 C533.5,162.70 485.5,65.00 461.5,65.00 L451.5,65.00Z" fill="#a010fc"/>
<path d="M451.5,55.85 L461.5,55.85 C485.5,55.85 533.5,156.40 557.5,156.40 L583.5,156.40 L583.5,157.00 L557.5,157.00 C533.5,157.00 485.5,56.90 461.5,56.90 L451.5,56.90Z" fill="#e8937a"/>
<path d="M451.5,53.73 L461.5,53.73 C485.5,53.73 533.5,155.80 557.5,155.80 L583.5,155.80 L583.5,156.40 L557.5,156.40 C533.5,156.40 485.5,54.80 461.5,54.80 L451.5,54.80Z" fill="#8e1212"/>
<path d="M451.5,47.60 L461.5,47.60 C485.5,47.60 533.5,152.50 557.5,152.50 L583.5,152.50 L583.5,155.80 L557.5,155.80 C533.5,155.80 485.5,51.60 461.5,51.60 L451.5,51.60Z" fill="#a3f5a3"/>
<path d="M451.5,42.41 L461.5,42.41 C485.5,42.41 533.5,151.40 557.5,151.40 L583.5,151.40 L583.5,152.50 L557.5,152.50 C533.5,152.50 485.5,44.20 461.5,44.20 L451.5,44.20Z" fill="#eda33a"/>
<path d="M451.5,38.15 L461.5,38.15 C485.5,38.15 533.5,148.20 557.5,148.20 L583.5,148.20 L583.5,151.40 L557.5,151.40 C533.5,151.40 485.5,40.30 461.5,40.30 L451.5,40.30Z" fill="#6ef4fb"/>
<path d="M451.5,35.00 L459.5,35.00 C485.0,35.00 536.0,35.00 561.5,35.00 L583.5,35.00 L583.5,39.70 L561.5,39.70 C536.0,39.70 485.0,38.15 459.5,38.15 L451.5,38.15Z" fill="#6ef4fb"/>
<path d="M451.5,40.30 L459.5,40.30 C485.0,40.30 536.0,39.70 561.5,39.70 L583.5,39.70 L583.5,41.00 L561.5,41.00 C536.0,41.00 485.0,42.41 459.5,42.41 L451.5,42.41Z" fill="#eda33a"/>
<path d="M451.5,44.20 L459.5,44.20 C485.0,44.20 536.0,41.00 561.5,41.00 L583.5,41.00 L583.5,43.80 L561.5,43.80 C536.0,43.80 485.0,47.60 459.5,47.60 L451.5,47.60Z" fill="#a3f5a3"/>
<path d="M451.5,51.60 L459.5,51.60 C485.0,51.60 536.0,43.80 561.5,43.80 L583.5,43.80 L583.5,45.00 L561.5,45.00 C536.0,45.00 485.0,53.73 459.5,53.73 L451.5,53.73Z" fill="#8e1212"/>
<path d="M451.5,54.80 L459.5,54.80 C485.0,54.80 536.0,45.00 561.5,45.00 L583.5,45.00 L583.5,45.60 L561.5,45.60 C536.0,45.60 485.0,55.85 459.5,55.85 L451.5,55.85Z" fill="#e8937a"/>
<path d="M451.5,56.90 L459.5,56.90 C485.0,56.90 536.0,45.60 561.5,45.60 L583.5,45.60 L583.5,48.80 L561.5,48.80 C536.0,48.80 485.0,59.81 459.5,59.81 L451.5,59.81Z" fill="#a010fc"/>
<path d="M451.5,65.00 L459.5,65.00 C485.0,65.00 536.0,48.80 561.5,48.80 L583.5,48.80 L583.5,49.30 L561.5,49.30 C536.0,49.30 485.0,65.67 459.5,65.67 L451.5,65.67Z" fill="#99d8fa"/>
<path d="M451.5,66.20 L459.5,66.20 C485.0,66.20 536.0,49.30 561.5,49.30 L583.5,49.30 L583.5,49.80 L561.5,49.80 C536.0,49.80 485.0,66.76 459.5,66.76 L451.5,66.76Z" fill="#6f9a32"/>
<path d="M451.5,67.20 L459.5,67.20 C485.0,67.20 536.0,49.80 561.5,49.80 L583.5,49.80 L583.5,52.70 L561.5,52.70 C536.0,52.70 485.0,70.10 459.5,70.10 L451.5,70.10Z" fill="#ede145"/>
<path d="M451.5,72.50 L459.5,72.50 C485.0,72.50 536.0,52.70 561.5,52.70 L583.5,52.70 L583.5,65.00 L561.5,65.00 C536.0,65.00 485.0,84.56 459.5,84.56 L451.5,84.56Z" fill="#ff2121"/>
<path d="M451.5,92.80 L459.5,92.80 C485.0,92.80 536.0,65.00 561.5,65.00 L583.5,65.00 L583.5,79.20 L561.5,79.20 C536.0,79.20 485.0,103.79 459.5,103.79 L451.5,103.79Z" fill="#a3fbe6"/>
<path d="M451.5,112.30 L459.5,112.30 C485.0,112.30 536.0,79.20 561.5,79.20 L583.5,79.20 L583.5,81.00 L561.5,81.00 C536.0,81.00 485.0,115.11 459.5,115.11 L451.5,115.11Z" fill="#cbab84"/>
<path d="M451.5,116.20 L459.5,116.20 C485.0,116.20 536.0,81.00 561.5,81.00 L583.5,81.00 L583.5,83.50 L561.5,83.50 C536.0,83.50 485.0,117.91 459.5,117.91 L451.5,117.91Z" fill="#1717a6"/>
<path d="M451.5,120.30 L459.5,120.30 C485.0,120.30 536.0,83.50 561.5,83.50 L583.5,83.50 L583.5,84.90 L561.5,84.90 C536.0,84.90 485.0,123.71 459.5,123.71 L451.5,123.71Z" fill="#e2e5fb"/>
<path d="M451.5,124.20 L459.5,124.20 C485.0,124.20 536.0,84.90 561.5,84.90 L583.5,84.90 L583.5,92.80 L561.5,92.80 C536.0,92.80 485.0,132.46 459.5,132.46 L451.5,132.46Z" fill="#45fc0c"/>
<path d="M451.5,140.10 L459.5,140.10 C485.0,140.10 536.0,92.80 561.5,92.80 L583.5,92.80 L583.5,96.40 L561.5,96.40 C536.0,96.40 485.0,143.39 459.5,143.39 L451.5,143.39Z" fill="#fb35fb"/>
<path d="M451.5,145.40 L459.5,145.40 C485.0,145.40 536.0,96.40 561.5,96.40 L583.5,96.40 L583.5,96.80 L561.5,96.80 C536.0,96.80 485.0,146.60 459.5,146.60 L451.5,146.60Z" fill="#f9378f"/>
<path d="M451.5,147.20 L459.5,147.20 C485.0,147.20 536.0,96.80 561.5,96.80 L583.5,96.80 L583.5,97.20 L561.5,97.20 C536.0,97.20 485.0,148.73 459.5,148.73 L451.5,148.73Z" fill="#ef8727"/>
<path d="M451.5,149.50 L459.5,149.50 C485.0,149.50 536.0,97.20 561.5,97.20 L583.5,97.20 L583.5,122.70 L561.5,122.70 C536.0,122.70 485.0,169.10 459.5,169.10 L451.5,169.10Z" fill="#f6fb3e"/>
<path d="M451.5,181.70 L459.5,181.70 C485.0,181.70 536.0,122.70 561.5,122.70 L583.5,122.70 L583.5,124.00 L561.5,124.00 C536.0,124.00 485.0,183.99 459.5,183.99 L451.5,183.99Z" fill="#f4e1b5"/>
<path d="M451.5,184.70 L459.5,184.70 C485.0,184.70 536.0,124.00 561.5,124.00 L583.5,124.00 L583.5,133.40 L561.5,133.40 C536.0,133.40 485.0,193.00 459.5,193.00 L451.5,193.00Z" fill="#f2b1c1" fill-opacity="0.75"/>
<path d="M178.5,52.3 L196.6,52.3 C208.4,52.3 283.0,155.2 294.8,155.2 L309.5,155.2" stroke="#f0b8a8" stroke-width="0.40" fill="none" opacity="0.75"/>
<path d="M178.5,118.7 L203.3,118.7 C214.3,118.7 284.0,49.8 295.0,49.8 L309.5,49.8" stroke="#86fd61" stroke-width="0.31" fill="none" opacity="0.75"/>
<path d="M178.5,133.0 L191.4,133.0 C203.0,133.0 276.3,203.1 287.9,203.1 L309.5,203.1" stroke="#f9fc81" stroke-width="0.59" fill="none" opacity="0.75"/>
<path d="M178.5,150.8 L205.3,150.8 C216.2,150.8 284.9,194.1 295.8,194.1 L309.5,194.1" stroke="#f6ccd6" stroke-width="0.52" fill="none" opacity="0.75"/>
<path d="M178.5,62.8 L195.5,62.8 C207.3,62.8 282.3,39.6 294.2,39.6 L309.5,39.6" stroke="#f3eb86" stroke-width="0.39" fill="none" opacity="0.75"/>
<path d="M178.5,65.0 L192.6,65.0 C205.6,65.0 287.8,198.3 300.8,198.3 L309.5,198.3" stroke="#f3eb86" stroke-width="0.48" fill="none" opacity="0.75"/>
<path d="M178.5,142.6 L206.4,142.6 C216.3,142.6 279.1,136.1 289.1,136.1 L309.5,136.1" stroke="#f9fc81" stroke-width="0.37" fill="none" opacity="0.75"/>
<path d="M178.5,50.5 L205.3,50.5 C216.0,50.5 284.4,148.6 295.2,148.6 L309.5,148.6" stroke="#b56464" stroke-width="0.58" fill="none" opacity="0.75"/>
<path d="M178.5,141.7 L204.2,141.7 C214.4,141.7 279.0,82.8 289.3,82.8 L309.5,82.8" stroke="#f9fc81" stroke-width="0.54" fill="none" opacity="0.75"/>
<path d="M178.5,99.9 L202.5,99.9 C213.7,99.9 284.2,40.4 295.3,40.4 L309.5,40.4" stroke="#6868c5" stroke-width="0.40" fill="none" opacity="0.75"/>
<path d="M178.5,57.2 L194.2,57.2 C206.3,57.2 282.9,145.7 295.0,145.7 L309.5,145.7" stroke="#c163fd" stroke-width="0.57" fill="none" opacity="0.75"/>
<path d="M178.5,100.3 L196.5,100.3 C209.0,100.3 288.2,117.0 300.7,117.0 L309.5,117.0" stroke="#6868c5" stroke-width="0.46" fill="none" opacity="0.75"/>
<path d="M178.5,40.6 L194.6,40.6 C207.1,40.6 286.2,189.8 298.7,189.8 L309.5,189.8" stroke="#c3f8c3" stroke-width="0.54" fill="none" opacity="0.75"/>
<path d="M178.5,99.5 L203.8,99.5 C215.1,99.5 286.6,156.3 297.8,156.3 L309.5,156.3" stroke="#6868c5" stroke-width="0.52" fill="none" opacity="0.75"/>
<path d="M178.5,101.0 L192.2,101.0 C204.3,101.0 281.3,125.9 293.4,125.9 L309.5,125.9" stroke="#eceefc" stroke-width="0.48" fill="none" opacity="0.75"/>
<path d="M178.5,158.0 L204.3,158.0 C214.6,158.0 280.4,210.4 290.7,210.4 L309.5,210.4" stroke="#f6ccd6" stroke-width="0.63" fill="none" opacity="0.75"/>
<path d="M178.5,139.0 L188.0,139.0 C200.1,139.0 276.8,123.4 288.9,123.4 L309.5,123.4" stroke="#f9fc81" stroke-width="0.47" fill="none" opacity="0.75"/>
<path d="M178.5,108.2 L193.9,108.2 C206.2,108.2 284.0,204.4 296.3,204.4 L309.5,204.4" stroke="#86fd61" stroke-width="0.49" fill="none" opacity="0.75"/>
<path d="M178.5,104.2 L187.4,104.2 C200.7,104.2 284.6,131.4 297.9,131.4 L309.5,131.4" stroke="#86fd61" stroke-width="0.48" fill="none" opacity="0.75"/>
<path d="M178.5,57.8 L202.5,57.8 C213.0,57.8 279.2,170.5 289.7,170.5 L309.5,170.5" stroke="#c163fd" stroke-width="0.62" fill="none" opacity="0.75"/>
<path d="M178.5,67.8 L187.2,67.8 C200.9,67.8 287.3,140.9 300.9,140.9 L309.5,140.9" stroke="#ff6e6e" stroke-width="0.33" fill="none" opacity="0.75"/>
<path d="M178.5,132.1 L193.7,132.1 C206.4,132.1 287.3,195.9 300.1,195.9 L309.5,195.9" stroke="#f9fc81" stroke-width="0.55" fill="none" opacity="0.75"/>
<path d="M178.5,55.5 L200.8,55.5 C212.1,55.5 283.5,61.5 294.7,61.5 L309.5,61.5" stroke="#c163fd" stroke-width="0.41" fill="none" opacity="0.75"/>
<path d="M178.5,76.4 L195.2,76.4 C207.5,76.4 286.1,38.7 298.5,38.7 L309.5,38.7" stroke="#ff6e6e" stroke-width="0.45" fill="none" opacity="0.75"/>
<path d="M178.5,49.0 L198.8,49.0 C209.7,49.0 278.8,115.3 289.7,115.3 L309.5,115.3" stroke="#b56464" stroke-width="0.38" fill="none" opacity="0.75"/>
<path d="M178.5,37.7 L190.0,37.7 C202.2,37.7 279.1,196.7 291.2,196.7 L309.5,196.7" stroke="#f3c37e" stroke-width="0.59" fill="none" opacity="0.75"/>
<path d="M178.5,122.1 L202.5,122.1 C213.5,122.1 282.9,69.7 293.9,69.7 L309.5,69.7" stroke="#fc7bfc" stroke-width="0.69" fill="none" opacity="0.75"/>
<path d="M178.5,63.7 L193.2,63.7 C205.1,63.7 280.4,97.2 292.3,97.2 L309.5,97.2" stroke="#f3eb86" stroke-width="0.53" fill="none" opacity="0.75"/>
<path d="M178.5,42.6 L192.9,42.6 C204.4,42.6 277.5,214.3 289.1,214.3 L309.5,214.3" stroke="#c3f8c3" stroke-width="0.65" fill="none" opacity="0.75"/>
<path d="M178.5,74.9 L191.8,74.9 C204.9,74.9 287.9,152.1 301.0,152.1 L309.5,152.1" stroke="#ff6e6e" stroke-width="0.47" fill="none" opacity="0.75"/>
<path d="M178.5,147.9 L198.1,147.9 C210.2,147.9 286.6,211.1 298.7,211.1 L309.5,211.1" stroke="#f7ebce" stroke-width="0.68" fill="none" opacity="0.75"/>
<path d="M178.5,146.5 L194.3,146.5 C206.5,146.5 284.0,145.8 296.2,145.8 L309.5,145.8" stroke="#f9fc81" stroke-width="0.50" fill="none" opacity="0.75"/>
<path d="M178.5,61.4 L188.9,61.4 C201.3,61.4 279.4,103.1 291.8,103.1 L309.5,103.1" stroke="#a1bd79" stroke-width="0.38" fill="none" opacity="0.75"/>
<path d="M178.5,73.0 L204.5,73.0 C216.1,73.0 289.3,86.2 300.8,86.2 L309.5,86.2" stroke="#ff6e6e" stroke-width="0.65" fill="none" opacity="0.75"/>
<path d="M178.5,60.8 L193.5,60.8 C206.1,60.8 285.6,190.4 298.1,190.4 L309.5,190.4" stroke="#bce5fb" stroke-width="0.61" fill="none" opacity="0.75"/>
<path d="M178.5,121.7 L204.2,121.7 C214.7,121.7 281.0,181.7 291.5,181.7 L309.5,181.7" stroke="#fc7bfc" stroke-width="0.44" fill="none" opacity="0.75"/>
<path d="M178.5,97.3 L188.6,97.3 C201.8,97.3 285.5,71.9 298.7,71.9 L309.5,71.9" stroke="#ddc8af" stroke-width="0.59" fill="none" opacity="0.75"/>
<path d="M178.5,152.1 L203.4,152.1 C214.5,152.1 284.8,209.8 295.9,209.8 L309.5,209.8" stroke="#f6ccd6" stroke-width="0.54" fill="none" opacity="0.75"/>
<path d="M178.5,78.7 L205.6,78.7 C215.6,78.7 278.7,212.2 288.7,212.2 L309.5,212.2" stroke="#ff6e6e" stroke-width="0.54" fill="none" opacity="0.75"/>
<path d="M178.5,52.4 L188.3,52.4 C200.4,52.4 276.9,51.4 289.0,51.4 L309.5,51.4" stroke="#f0b8a8" stroke-width="0.32" fill="none" opacity="0.75"/>
<path d="M178.5,136.3 L202.2,136.3 C213.5,136.3 284.6,88.7 295.8,88.7 L309.5,88.7" stroke="#f9fc81" stroke-width="0.55" fill="none" opacity="0.75"/>
<path d="M178.5,108.3 L204.4,108.3 C215.0,108.3 282.5,195.3 293.2,195.3 L309.5,195.3" stroke="#86fd61" stroke-width="0.41" fill="none" opacity="0.75"/>
<path d="M178.5,153.9 L203.1,153.9 C214.9,153.9 289.2,78.6 300.9,78.6 L309.5,78.6" stroke="#f6ccd6" stroke-width="0.61" fill="none" opacity="0.75"/>
<path d="M178.5,121.1 L187.7,121.1 C200.9,121.1 284.5,196.1 297.7,196.1 L309.5,196.1" stroke="#fc7bfc" stroke-width="0.65" fill="none" opacity="0.75"/>
<path d="M178.5,162.0 L191.6,162.0 C203.5,162.0 278.8,53.2 290.7,53.2 L309.5,53.2" stroke="#f6ccd6" stroke-width="0.37" fill="none" opacity="0.75"/>
<path d="M178.5,48.2 L204.7,48.2 C215.8,48.2 285.9,94.5 297.0,94.5 L309.5,94.5" stroke="#b56464" stroke-width="0.69" fill="none" opacity="0.75"/>
<path d="M178.5,67.6 L187.7,67.6 C201.3,67.6 287.4,50.8 301.0,50.8 L309.5,50.8" stroke="#ff6e6e" stroke-width="0.56" fill="none" opacity="0.75"/>
<path d="M178.5,161.3 L193.0,161.3 C205.9,161.3 287.4,206.4 300.2,206.4 L309.5,206.4" stroke="#f6ccd6" stroke-width="0.48" fill="none" opacity="0.75"/>
<path d="M178.5,152.4 L191.1,152.4 C203.3,152.4 280.3,187.6 292.5,187.6 L309.5,187.6" stroke="#f6ccd6" stroke-width="0.34" fill="none" opacity="0.75"/>
<path d="M178.5,160.9 L192.0,160.9 C204.2,160.9 281.3,143.3 293.5,143.3 L309.5,143.3" stroke="#f6ccd6" stroke-width="0.56" fill="none" opacity="0.75"/>
<path d="M178.5,74.5 L206.2,74.5 C216.8,74.5 284.2,195.3 294.8,195.3 L309.5,195.3" stroke="#ff6e6e" stroke-width="0.41" fill="none" opacity="0.75"/>
<path d="M178.5,118.8 L192.9,118.8 C205.3,118.8 284.1,183.1 296.5,183.1 L309.5,183.1" stroke="#86fd61" stroke-width="0.46" fill="none" opacity="0.75"/>
<path d="M178.5,75.7 L193.5,75.7 C205.5,75.7 281.5,175.6 293.5,175.6 L309.5,175.6" stroke="#ff6e6e" stroke-width="0.42" fill="none" opacity="0.75"/>
<path d="M178.5,109.4 L191.7,109.4 C204.7,109.4 287.1,73.6 300.1,73.6 L309.5,73.6" stroke="#86fd61" stroke-width="0.31" fill="none" opacity="0.75"/>
<path d="M178.5,105.8 L192.6,105.8 C204.3,105.8 278.3,195.2 290.0,195.2 L309.5,195.2" stroke="#86fd61" stroke-width="0.55" fill="none" opacity="0.75"/>
<path d="M178.5,98.4 L202.5,98.4 C214.2,98.4 288.3,59.3 300.0,59.3 L309.5,59.3" stroke="#6868c5" stroke-width="0.50" fill="none" opacity="0.75"/>
<path d="M178.5,157.0 L203.0,157.0 C214.2,157.0 285.4,210.2 296.6,210.2 L309.5,210.2" stroke="#f6ccd6" stroke-width="0.69" fill="none" opacity="0.75"/>
<path d="M178.5,48.7 L204.4,48.7 C215.8,48.7 287.8,179.7 299.1,179.7 L309.5,179.7" stroke="#b56464" stroke-width="0.42" fill="none" opacity="0.75"/>
<path d="M178.5,152.0 L202.7,152.0 C212.9,152.0 278.1,200.4 288.4,200.4 L309.5,200.4" stroke="#f6ccd6" stroke-width="0.66" fill="none" opacity="0.75"/>
<path d="M178.5,143.0 L195.4,143.0 C207.8,143.0 286.5,143.5 298.9,143.5 L309.5,143.5" stroke="#f9fc81" stroke-width="0.37" fill="none" opacity="0.75"/>
<path d="M178.5,126.9 L205.8,126.9 C215.9,126.9 279.7,74.8 289.8,74.8 L309.5,74.8" stroke="#fb7db6" stroke-width="0.33" fill="none" opacity="0.75"/>
<path d="M178.5,105.6 L194.7,105.6 C206.9,105.6 284.2,169.0 296.4,169.0 L309.5,169.0" stroke="#86fd61" stroke-width="0.48" fill="none" opacity="0.75"/>
<path d="M178.5,68.1 L198.1,68.1 C210.3,68.1 288.0,207.4 300.2,207.4 L309.5,207.4" stroke="#ff6e6e" stroke-width="0.47" fill="none" opacity="0.75"/>
<path d="M178.5,80.6 L203.1,80.6 C214.2,80.6 284.4,196.3 295.5,196.3 L309.5,196.3" stroke="#ff6e6e" stroke-width="0.40" fill="none" opacity="0.75"/>
<path d="M178.5,86.5 L197.3,86.5 C208.9,86.5 282.5,71.8 294.1,71.8 L309.5,71.8" stroke="#c3fcee" stroke-width="0.30" fill="none" opacity="0.75"/>
<path d="M178.5,118.4 L191.6,118.4 C203.9,118.4 281.9,143.1 294.2,143.1 L309.5,143.1" stroke="#86fd61" stroke-width="0.59" fill="none" opacity="0.75"/>
<path d="M178.5,96.5 L204.7,96.5 C214.7,96.5 278.2,202.4 288.3,202.4 L309.5,202.4" stroke="#ddc8af" stroke-width="0.52" fill="none" opacity="0.75"/>
<path d="M178.5,70.4 L196.9,70.4 C208.0,70.4 277.8,42.6 288.8,42.6 L309.5,42.6" stroke="#ff6e6e" stroke-width="0.33" fill="none" opacity="0.75"/>
<path d="M178.5,55.5 L200.5,55.5 C211.1,55.5 278.6,174.0 289.2,174.0 L309.5,174.0" stroke="#c163fd" stroke-width="0.42" fill="none" opacity="0.75"/>
<path d="M178.5,82.8 L203.7,82.8 C213.9,82.8 278.4,150.9 288.5,150.9 L309.5,150.9" stroke="#c3fcee" stroke-width="0.54" fill="none" opacity="0.75"/>
<path d="M178.5,158.4 L191.2,158.4 C203.4,158.4 280.9,62.7 293.1,62.7 L309.5,62.7" stroke="#f6ccd6" stroke-width="0.40" fill="none" opacity="0.75"/>
<path d="M178.5,132.4 L193.7,132.4 C205.7,132.4 281.9,208.2 293.9,208.2 L309.5,208.2" stroke="#f9fc81" stroke-width="0.59" fill="none" opacity="0.75"/>
<path d="M178.5,56.2 L202.7,56.2 C213.5,56.2 281.6,41.4 292.3,41.4 L309.5,41.4" stroke="#c163fd" stroke-width="0.69" fill="none" opacity="0.75"/>
<path d="M178.5,69.4 L202.1,69.4 C212.6,69.4 278.8,186.0 289.3,186.0 L309.5,186.0" stroke="#ff6e6e" stroke-width="0.36" fill="none" opacity="0.75"/>
<path d="M178.5,119.8 L205.9,119.8 C216.7,119.8 285.0,105.1 295.7,105.1 L309.5,105.1" stroke="#86fd61" stroke-width="0.67" fill="none" opacity="0.75"/>
<path d="M178.5,138.1 L189.4,138.1 C201.3,138.1 276.5,60.9 288.4,60.9 L309.5,60.9" stroke="#f9fc81" stroke-width="0.43" fill="none" opacity="0.75"/>
<path d="M178.5,158.3 L189.2,158.3 C202.1,158.3 284.0,206.5 297.0,206.5 L309.5,206.5" stroke="#f6ccd6" stroke-width="0.46" fill="none" opacity="0.75"/>
<path d="M178.5,66.9 L195.5,66.9 C208.1,66.9 288.2,35.6 300.8,35.6 L309.5,35.6" stroke="#ff6e6e" stroke-width="0.38" fill="none" opacity="0.75"/>
<path d="M178.5,115.6 L192.5,115.6 C204.6,115.6 281.4,166.5 293.5,166.5 L309.5,166.5" stroke="#86fd61" stroke-width="0.38" fill="none" opacity="0.75"/>
<path d="M178.5,70.1 L202.4,70.1 C212.9,70.1 279.3,74.5 289.8,74.5 L309.5,74.5" stroke="#ff6e6e" stroke-width="0.57" fill="none" opacity="0.75"/>
<path d="M178.5,160.1 L202.0,160.1 C212.9,160.1 282.2,112.3 293.1,112.3 L309.5,112.3" stroke="#f6ccd6" stroke-width="0.64" fill="none" opacity="0.75"/>
<path d="M178.5,84.2 L189.2,84.2 C201.4,84.2 278.5,195.9 290.6,195.9 L309.5,195.9" stroke="#c3fcee" stroke-width="0.62" fill="none" opacity="0.75"/>
<path d="M178.5,105.1 L189.6,105.1 C202.1,105.1 281.6,154.8 294.1,154.8 L309.5,154.8" stroke="#86fd61" stroke-width="0.69" fill="none" opacity="0.75"/>
<path d="M178.5,108.6 L197.3,108.6 C209.7,108.6 288.6,114.2 301.1,114.2 L309.5,114.2" stroke="#86fd61" stroke-width="0.44" fill="none" opacity="0.75"/>
<path d="M178.5,91.8 L202.2,91.8 C213.0,91.8 280.8,83.0 291.5,83.0 L309.5,83.0" stroke="#c3fcee" stroke-width="0.46" fill="none" opacity="0.75"/>
<path d="M315.5,185.5 L340.3,185.5 C350.7,185.5 416.4,44.4 426.8,44.4 L445.5,44.4" stroke="#f6ccd6" stroke-width="0.33" fill="none" opacity="0.75"/>
<path d="M315.5,140.4 L335.3,140.4 C347.2,140.4 422.9,136.0 434.9,136.0 L445.5,136.0" stroke="#fc7bfc" stroke-width="0.54" fill="none" opacity="0.75"/>
<path d="M315.5,102.8 L342.5,102.8 C352.9,102.8 419.0,155.5 429.5,155.5 L445.5,155.5" stroke="#c3fcee" stroke-width="0.70" fill="none" opacity="0.75"/>
<path d="M315.5,105.0 L333.0,105.0 C345.0,105.0 420.7,203.2 432.6,203.2 L445.5,203.2" stroke="#c3fcee" stroke-width="0.31" fill="none" opacity="0.75"/>
<path d="M315.5,94.8 L328.5,94.8 C341.5,94.8 423.8,122.6 436.8,122.6 L445.5,122.6" stroke="#c3fcee" stroke-width="0.52" fill="none" opacity="0.75"/>
<path d="M315.5,86.2 L337.1,86.2 C348.8,86.2 422.9,222.9 434.6,222.9 L445.5,222.9" stroke="#ff6e6e" stroke-width="0.70" fill="none" opacity="0.75"/>
<path d="M315.5,175.6 L338.9,175.6 C349.3,175.6 415.6,157.4 426.0,157.4 L445.5,157.4" stroke="#f6ccd6" stroke-width="0.66" fill="none" opacity="0.75"/>
<path d="M315.5,90.7 L338.7,90.7 C349.3,90.7 416.5,195.3 427.1,195.3 L445.5,195.3" stroke="#ff6e6e" stroke-width="0.36" fill="none" opacity="0.75"/>
<path d="M315.5,107.6 L333.7,107.6 C344.7,107.6 414.4,116.7 425.5,116.7 L445.5,116.7" stroke="#c3fcee" stroke-width="0.67" fill="none" opacity="0.75"/>
<path d="M315.5,90.7 L335.0,90.7 C345.7,90.7 413.5,185.0 424.2,185.0 L445.5,185.0" stroke="#ff6e6e" stroke-width="0.48" fill="none" opacity="0.75"/>
<path d="M315.5,148.9 L337.6,148.9 C349.3,148.9 423.1,72.0 434.8,72.0 L445.5,72.0" stroke="#f9fc81" stroke-width="0.43" fill="none" opacity="0.75"/>
<path d="M315.5,177.9 L342.7,177.9 C352.8,177.9 417.1,239.6 427.2,239.6 L445.5,239.6" stroke="#f6ccd6" stroke-width="0.42" fill="none" opacity="0.75"/>
<path d="M315.5,114.4 L330.0,114.4 C342.5,114.4 421.7,143.6 434.2,143.6 L445.5,143.6" stroke="#6868c5" stroke-width="0.54" fill="none" opacity="0.75"/>
<path d="M315.5,115.6 L340.0,115.6 C350.4,115.6 416.5,138.9 426.9,138.9 L445.5,138.9" stroke="#6868c5" stroke-width="0.33" fill="none" opacity="0.75"/>
<path d="M315.5,177.9 L336.7,177.9 C348.3,177.9 421.7,232.7 433.3,232.7 L445.5,232.7" stroke="#f6ccd6" stroke-width="0.32" fill="none" opacity="0.75"/>
<path d="M315.5,70.7 L340.6,70.7 C351.8,70.7 422.5,52.7 433.7,52.7 L445.5,52.7" stroke="#f3eb86" stroke-width="0.51" fill="none" opacity="0.75"/>
<path d="M315.5,68.1 L324.5,68.1 C337.4,68.1 419.1,105.5 432.0,105.5 L445.5,105.5" stroke="#f3eb86" stroke-width="0.59" fill="none" opacity="0.75"/>
<path d="M315.5,62.1 L324.4,62.1 C336.7,62.1 414.6,48.8 426.9,48.8 L445.5,48.8" stroke="#c163fd" stroke-width="0.68" fill="none" opacity="0.75"/>
<path d="M315.5,38.3 L327.5,38.3 C339.5,38.3 415.4,235.5 427.4,235.5 L445.5,235.5" stroke="#a0f7fc" stroke-width="0.36" fill="none" opacity="0.75"/>
<path d="M315.5,95.7 L324.6,95.7 C337.5,95.7 419.4,242.9 432.3,242.9 L445.5,242.9" stroke="#c3fcee" stroke-width="0.36" fill="none" opacity="0.75"/>
<path d="M315.5,131.8 L324.5,131.8 C337.3,131.8 418.1,53.9 430.8,53.9 L445.5,53.9" stroke="#86fd61" stroke-width="0.43" fill="none" opacity="0.75"/>
<path d="M315.5,155.6 L340.8,155.6 C351.2,155.6 416.9,185.4 427.2,185.4 L445.5,185.4" stroke="#f9fc81" stroke-width="0.60" fill="none" opacity="0.75"/>
<path d="M315.5,109.4 L325.9,109.4 C338.5,109.4 418.2,229.2 430.8,229.2 L445.5,229.2" stroke="#ddc8af" stroke-width="0.43" fill="none" opacity="0.75"/>
<path d="M315.5,172.7 L334.0,172.7 C346.1,172.7 423.0,226.0 435.1,226.0 L445.5,226.0" stroke="#f9fc81" stroke-width="0.46" fill="none" opacity="0.75"/>
<path d="M315.5,186.1 L324.3,186.1 C336.9,186.1 416.7,226.9 429.3,226.9 L445.5,226.9" stroke="#f6ccd6" stroke-width="0.47" fill="none" opacity="0.75"/>
<path d="M315.5,57.1 L325.8,57.1 C338.1,57.1 415.9,203.1 428.2,203.1 L445.5,203.1" stroke="#f0b8a8" stroke-width="0.36" fill="none" opacity="0.75"/>
<path d="M315.5,115.0 L328.5,115.0 C340.7,115.0 418.6,190.7 430.9,190.7 L445.5,190.7" stroke="#6868c5" stroke-width="0.70" fill="none" opacity="0.75"/>
<path d="M315.5,74.5 L337.8,74.5 C349.3,74.5 422.0,139.0 433.5,139.0 L445.5,139.0" stroke="#ff6e6e" stroke-width="0.62" fill="none" opacity="0.75"/>
<path d="M315.5,101.6 L331.9,101.6 C344.3,101.6 423.1,35.8 435.5,35.8 L445.5,35.8" stroke="#c3fcee" stroke-width="0.31" fill="none" opacity="0.75"/>
<path d="M315.5,148.9 L328.4,148.9 C341.1,148.9 421.4,205.9 434.1,205.9 L445.5,205.9" stroke="#f9fc81" stroke-width="0.37" fill="none" opacity="0.75"/>
<path d="M315.5,117.0 L328.1,117.0 C339.6,117.0 412.8,86.6 424.4,86.6 L445.5,86.6" stroke="#eceefc" stroke-width="0.56" fill="none" opacity="0.75"/>
<path d="M315.5,186.6 L335.3,186.6 C347.4,186.6 424.3,107.3 436.4,107.3 L445.5,107.3" stroke="#f6ccd6" stroke-width="0.50" fill="none" opacity="0.75"/>
<path d="M315.5,100.8 L339.6,100.8 C350.7,100.8 420.9,65.2 432.0,65.2 L445.5,65.2" stroke="#c3fcee" stroke-width="0.34" fill="none" opacity="0.75"/>
<path d="M315.5,116.7 L343.2,116.7 C353.8,116.7 421.2,136.8 431.9,136.8 L445.5,136.8" stroke="#eceefc" stroke-width="0.42" fill="none" opacity="0.75"/>
<path d="M315.5,38.0 L340.4,38.0 C350.9,38.0 417.2,51.9 427.7,51.9 L445.5,51.9" stroke="#a0f7fc" stroke-width="0.42" fill="none" opacity="0.75"/>
<path d="M315.5,37.5 L328.0,37.5 C340.1,37.5 416.8,103.5 428.9,103.5 L445.5,103.5" stroke="#a0f7fc" stroke-width="0.49" fill="none" opacity="0.75"/>
<path d="M315.5,46.6 L325.4,46.6 C337.5,46.6 414.4,217.2 426.5,217.2 L445.5,217.2" stroke="#c3f8c3" stroke-width="0.67" fill="none" opacity="0.75"/>
<path d="M315.5,65.3 L338.7,65.3 C349.8,65.3 420.4,100.3 431.6,100.3 L445.5,100.3" stroke="#bce5fb" stroke-width="0.49" fill="none" opacity="0.75"/>
<path d="M315.5,54.2 L336.5,54.2 C346.9,54.2 413.2,205.0 423.7,205.0 L445.5,205.0" stroke="#b56464" stroke-width="0.64" fill="none" opacity="0.75"/>
<path d="M315.5,144.0 L338.1,144.0 C349.1,144.0 419.1,229.1 430.1,229.1 L445.5,229.1" stroke="#fc7bfc" stroke-width="0.61" fill="none" opacity="0.75"/>
<path d="M315.5,91.3 L334.2,91.3 C345.8,91.3 418.9,168.1 430.4,168.1 L445.5,168.1" stroke="#ff6e6e" stroke-width="0.41" fill="none" opacity="0.75"/>
<path d="M315.5,185.3 L329.7,185.3 C342.2,185.3 421.4,190.4 433.9,190.4 L445.5,190.4" stroke="#f6ccd6" stroke-width="0.63" fill="none" opacity="0.75"/>
<path d="M315.5,111.9 L341.9,111.9 C352.3,111.9 418.5,219.5 428.9,219.5 L445.5,219.5" stroke="#6868c5" stroke-width="0.57" fill="none" opacity="0.75"/>
<path d="M315.5,163.7 L326.8,163.7 C339.3,163.7 418.7,216.5 431.3,216.5 L445.5,216.5" stroke="#f9fc81" stroke-width="0.70" fill="none" opacity="0.75"/>
<path d="M315.5,45.5 L336.6,45.5 C348.4,45.5 423.5,239.0 435.3,239.0 L445.5,239.0" stroke="#c3f8c3" stroke-width="0.70" fill="none" opacity="0.75"/>
<path d="M315.5,81.7 L332.5,81.7 C344.2,81.7 418.1,229.6 429.8,229.6 L445.5,229.6" stroke="#ff6e6e" stroke-width="0.57" fill="none" opacity="0.75"/>
<path d="M315.5,52.6 L325.8,52.6 C338.3,52.6 417.4,193.4 429.9,193.4 L445.5,193.4" stroke="#b56464" stroke-width="0.60" fill="none" opacity="0.75"/>
<path d="M315.5,147.6 L337.7,147.6 C348.9,147.6 420.2,238.9 431.4,238.9 L445.5,238.9" stroke="#f4b172" stroke-width="0.48" fill="none" opacity="0.75"/>
<path d="M315.5,191.6 L332.5,191.6 C345.0,191.6 424.2,130.6 436.7,130.6 L445.5,130.6" stroke="#f6ccd6" stroke-width="0.36" fill="none" opacity="0.75"/>
<path d="M315.5,128.7 L333.4,128.7 C345.1,128.7 419.7,65.1 431.4,65.1 L445.5,65.1" stroke="#86fd61" stroke-width="0.50" fill="none" opacity="0.75"/>
<path d="M315.5,146.8 L342.8,146.8 C353.5,146.8 421.7,152.6 432.5,152.6 L445.5,152.6" stroke="#f4b172" stroke-width="0.49" fill="none" opacity="0.75"/>
<path d="M315.5,152.4 L328.3,152.4 C340.3,152.4 416.4,162.0 428.4,162.0 L445.5,162.0" stroke="#f9fc81" stroke-width="0.64" fill="none" opacity="0.75"/>
<path d="M315.5,98.4 L324.1,98.4 C336.9,98.4 417.8,197.9 430.6,197.9 L445.5,197.9" stroke="#c3fcee" stroke-width="0.55" fill="none" opacity="0.75"/>
<path d="M315.5,147.0 L324.2,147.0 C336.2,147.0 411.9,143.4 423.9,143.4 L445.5,143.4" stroke="#f4b172" stroke-width="0.63" fill="none" opacity="0.75"/>
<path d="M315.5,149.8 L325.9,149.8 C337.8,149.8 413.7,185.9 425.7,185.9 L445.5,185.9" stroke="#f9fc81" stroke-width="0.65" fill="none" opacity="0.75"/>
<path d="M315.5,155.7 L327.7,155.7 C339.4,155.7 414.1,232.7 425.8,232.7 L445.5,232.7" stroke="#f9fc81" stroke-width="0.53" fill="none" opacity="0.75"/>
<path d="M315.5,56.7 L335.0,56.7 C346.5,56.7 419.1,107.4 430.6,107.4 L445.5,107.4" stroke="#f0b8a8" stroke-width="0.40" fill="none" opacity="0.75"/>
<path d="M315.5,67.3 L333.4,67.3 C344.5,67.3 414.3,47.1 425.4,47.1 L445.5,47.1" stroke="#f3eb86" stroke-width="0.30" fill="none" opacity="0.75"/>
<path d="M315.5,138.6 L330.5,138.6 C342.8,138.6 421.0,115.8 433.4,115.8 L445.5,115.8" stroke="#fc7bfc" stroke-width="0.57" fill="none" opacity="0.75"/>
<path d="M315.5,114.2 L327.3,114.2 C339.2,114.2 414.7,205.0 426.6,205.0 L445.5,205.0" stroke="#6868c5" stroke-width="0.60" fill="none" opacity="0.75"/>
<path d="M315.5,158.5 L340.8,158.5 C352.2,158.5 423.9,147.5 435.2,147.5 L445.5,147.5" stroke="#f9fc81" stroke-width="0.61" fill="none" opacity="0.75"/>
<path d="M315.5,60.6 L324.1,60.6 C336.7,60.6 416.7,112.5 429.3,112.5 L445.5,112.5" stroke="#c163fd" stroke-width="0.42" fill="none" opacity="0.75"/>
<path d="M315.5,187.2 L332.6,187.2 C343.7,187.2 413.8,124.7 424.9,124.7 L445.5,124.7" stroke="#f6ccd6" stroke-width="0.45" fill="none" opacity="0.75"/>
<path d="M315.5,83.5 L341.8,83.5 C353.1,83.5 424.7,115.6 436.0,115.6 L445.5,115.6" stroke="#ff6e6e" stroke-width="0.52" fill="none" opacity="0.75"/>
<path d="M315.5,164.8 L336.7,164.8 C348.1,164.8 420.2,142.7 431.6,142.7 L445.5,142.7" stroke="#f9fc81" stroke-width="0.62" fill="none" opacity="0.75"/>
<path d="M315.5,167.3 L334.3,167.3 C345.2,167.3 414.3,228.0 425.2,228.0 L445.5,228.0" stroke="#f9fc81" stroke-width="0.46" fill="none" opacity="0.75"/>
<path d="M315.5,160.6 L332.9,160.6 C345.0,160.6 421.7,86.4 433.9,86.4 L445.5,86.4" stroke="#f9fc81" stroke-width="0.39" fill="none" opacity="0.75"/>
<path d="M315.5,78.7 L331.3,78.7 C343.4,78.7 419.9,53.7 432.0,53.7 L445.5,53.7" stroke="#ff6e6e" stroke-width="0.63" fill="none" opacity="0.75"/>
<path d="M315.5,85.1 L332.6,85.1 C344.6,85.1 421.0,220.7 433.0,220.7 L445.5,220.7" stroke="#ff6e6e" stroke-width="0.37" fill="none" opacity="0.75"/>
<path d="M315.5,175.8 L342.1,175.8 C353.0,175.8 421.7,108.7 432.5,108.7 L445.5,108.7" stroke="#f6ccd6" stroke-width="0.56" fill="none" opacity="0.75"/>
<path d="M315.5,50.7 L331.2,50.7 C343.3,50.7 420.0,209.6 432.1,209.6 L445.5,209.6" stroke="#c3f8c3" stroke-width="0.57" fill="none" opacity="0.75"/>
<path d="M315.5,160.1 L331.7,160.1 C343.0,160.1 414.3,235.3 425.6,235.3 L445.5,235.3" stroke="#f9fc81" stroke-width="0.55" fill="none" opacity="0.75"/>
<path d="M315.5,88.9 L337.4,88.9 C347.8,88.9 413.4,189.4 423.8,189.4 L445.5,189.4" stroke="#ff6e6e" stroke-width="0.50" fill="none" opacity="0.75"/>
<path d="M315.5,151.9 L338.7,151.9 C348.8,151.9 413.2,179.9 423.4,179.9 L445.5,179.9" stroke="#f9fc81" stroke-width="0.67" fill="none" opacity="0.75"/>
<path d="M315.5,80.9 L331.6,80.9 C344.0,80.9 422.3,146.8 434.7,146.8 L445.5,146.8" stroke="#ff6e6e" stroke-width="0.45" fill="none" opacity="0.75"/>
<path d="M315.5,185.7 L327.6,185.7 C339.1,185.7 412.1,114.5 423.7,114.5 L445.5,114.5" stroke="#f6ccd6" stroke-width="0.66" fill="none" opacity="0.75"/>
<path d="M315.5,55.0 L341.9,55.0 C351.8,55.0 414.8,216.3 424.7,216.3 L445.5,216.3" stroke="#f0b8a8" stroke-width="0.44" fill="none" opacity="0.75"/>
<path d="M315.5,154.9 L340.2,154.9 C351.2,154.9 420.7,125.5 431.6,125.5 L445.5,125.5" stroke="#f9fc81" stroke-width="0.39" fill="none" opacity="0.75"/>
<path d="M315.5,79.8 L342.1,79.8 C353.3,79.8 424.5,60.1 435.8,60.1 L445.5,60.1" stroke="#ff6e6e" stroke-width="0.43" fill="none" opacity="0.75"/>
<path d="M315.5,57.4 L328.8,57.4 C341.2,57.4 419.9,212.1 432.3,212.1 L445.5,212.1" stroke="#f0b8a8" stroke-width="0.47" fill="none" opacity="0.75"/>
<path d="M315.5,73.8 L331.2,73.8 C342.6,73.8 414.9,227.1 426.4,227.1 L445.5,227.1" stroke="#ff6e6e" stroke-width="0.43" fill="none" opacity="0.75"/>
<path d="M315.5,44.7 L339.2,44.7 C350.7,44.7 423.7,237.1 435.2,237.1 L445.5,237.1" stroke="#c3f8c3" stroke-width="0.47" fill="none" opacity="0.75"/>
<path d="M315.5,117.3 L335.9,117.3 C347.3,117.3 420.1,91.4 431.6,91.4 L445.5,91.4" stroke="#eceefc" stroke-width="0.61" fill="none" opacity="0.75"/>
<path d="M315.5,192.0 L330.1,192.0 C341.5,192.0 413.9,114.0 425.4,114.0 L445.5,114.0" stroke="#f6ccd6" stroke-width="0.55" fill="none" opacity="0.75"/>
<path d="M315.5,129.1 L343.3,129.1 C353.1,129.1 415.5,124.8 425.3,124.8 L445.5,124.8" stroke="#86fd61" stroke-width="0.69" fill="none" opacity="0.75"/>
<path d="M451.5,74.7 L471.7,74.7 C483.1,74.7 555.0,88.6 566.3,88.6 L583.5,88.6" stroke="#ff6e6e" stroke-width="0.45" fill="none" opacity="0.75"/>
<path d="M451.5,45.9 L465.0,45.9 C477.8,45.9 559.0,36.3 571.8,36.3 L583.5,36.3" stroke="#c3f8c3" stroke-width="0.63" fill="none" opacity="0.75"/>
<path d="M451.5,201.0 L469.2,201.0 C480.9,201.0 554.5,81.3 566.2,81.3 L583.5,81.3" stroke="#f6ccd6" stroke-width="0.63" fill="none" opacity="0.75"/>
<path d="M451.5,60.1 L470.2,60.1 C481.5,60.1 553.4,97.5 564.7,97.5 L583.5,97.5" stroke="#c163fd" stroke-width="0.65" fill="none" opacity="0.75"/>
<path d="M451.5,146.9 L471.5,146.9 C483.4,146.9 559.0,41.3 570.9,41.3 L583.5,41.3" stroke="#fb7db6" stroke-width="0.60" fill="none" opacity="0.75"/>
<path d="M451.5,40.2 L474.0,40.2 C484.6,40.2 552.1,120.2 562.8,120.2 L583.5,120.2" stroke="#a0f7fc" stroke-width="0.49" fill="none" opacity="0.75"/>
<path d="M451.5,154.0 L475.6,154.0 C486.8,154.0 557.7,125.6 568.9,125.6 L583.5,125.6" stroke="#f9fc81" stroke-width="0.46" fill="none" opacity="0.75"/>
<path d="M451.5,191.0 L462.6,191.0 C475.7,191.0 558.9,121.5 572.1,121.5 L583.5,121.5" stroke="#f6ccd6" stroke-width="0.34" fill="none" opacity="0.75"/>
<path d="M451.5,195.9 L465.8,195.9 C478.1,195.9 555.7,77.9 568.0,77.9 L583.5,77.9" stroke="#f6ccd6" stroke-width="0.55" fill="none" opacity="0.75"/>
<path d="M451.5,99.3 L471.4,99.3 C482.3,99.3 551.5,69.5 562.4,69.5 L583.5,69.5" stroke="#c3fcee" stroke-width="0.53" fill="none" opacity="0.75"/>
<path d="M451.5,148.7 L479.3,148.7 C489.7,148.7 555.3,126.4 565.7,126.4 L583.5,126.4" stroke="#f4b172" stroke-width="0.64" fill="none" opacity="0.75"/>
<path d="M451.5,62.2 L477.6,62.2 C488.4,62.2 556.4,119.7 567.1,119.7 L583.5,119.7" stroke="#c163fd" stroke-width="0.69" fill="none" opacity="0.75"/>
<path d="M451.5,154.0 L471.1,154.0 C483.1,154.0 559.1,55.8 571.1,55.8 L583.5,55.8" stroke="#f9fc81" stroke-width="0.63" fill="none" opacity="0.75"/>
<path d="M451.5,45.6 L461.6,45.6 C473.9,45.6 551.6,119.0 563.9,119.0 L583.5,119.0" stroke="#c3f8c3" stroke-width="0.70" fill="none" opacity="0.75"/>
<path d="M451.5,103.4 L475.0,103.4 C485.5,103.4 552.3,49.8 562.9,49.8 L583.5,49.8" stroke="#c3fcee" stroke-width="0.42" fill="none" opacity="0.75"/>
<path d="M451.5,42.4 L474.0,42.4 C485.6,42.4 558.9,95.5 570.5,95.5 L583.5,95.5" stroke="#f3c37e" stroke-width="0.32" fill="none" opacity="0.75"/>
<path d="M451.5,181.8 L479.5,181.8 C490.4,181.8 559.8,131.5 570.8,131.5 L583.5,131.5" stroke="#f7ebce" stroke-width="0.50" fill="none" opacity="0.75"/>
<path d="M451.5,47.8 L463.8,47.8 C476.4,47.8 556.7,94.0 569.4,94.0 L583.5,94.0" stroke="#c3f8c3" stroke-width="0.31" fill="none" opacity="0.75"/>
<path d="M451.5,136.8 L476.9,136.8 C488.2,136.8 559.5,50.4 570.7,50.4 L583.5,50.4" stroke="#86fd61" stroke-width="0.32" fill="none" opacity="0.75"/>
<path d="M451.5,194.8 L468.9,194.8 C480.8,194.8 556.0,123.2 567.8,123.2 L583.5,123.2" stroke="#f6ccd6" stroke-width="0.45" fill="none" opacity="0.75"/>
<path d="M451.5,142.3 L472.1,142.3 C482.8,142.3 551.1,93.6 561.9,93.6 L583.5,93.6" stroke="#fc7bfc" stroke-width="0.52" fill="none" opacity="0.75"/>
<path d="M451.5,119.5 L464.6,119.5 C477.3,119.5 558.1,77.4 570.9,77.4 L583.5,77.4" stroke="#6868c5" stroke-width="0.59" fill="none" opacity="0.75"/>
<path d="M451.5,198.0 L460.1,198.0 C473.2,198.0 556.2,86.3 569.3,86.3 L583.5,86.3" stroke="#f6ccd6" stroke-width="0.52" fill="none" opacity="0.75"/>
<path d="M451.5,131.7 L472.3,131.7 C484.5,131.7 562.0,37.0 574.3,37.0 L583.5,37.0" stroke="#86fd61" stroke-width="0.55" fill="none" opacity="0.75"/>
<path d="M451.5,139.6 L466.8,139.6 C478.6,139.6 553.4,80.9 565.2,80.9 L583.5,80.9" stroke="#86fd61" stroke-width="0.57" fill="none" opacity="0.75"/>
<path d="M451.5,158.0 L473.1,158.0 C483.8,158.0 551.0,37.2 561.6,37.2 L583.5,37.2" stroke="#f9fc81" stroke-width="0.32" fill="none" opacity="0.75"/>
<path d="M451.5,76.9 L466.2,76.9 C478.6,76.9 557.5,79.9 570.0,79.9 L583.5,79.9" stroke="#ff6e6e" stroke-width="0.54" fill="none" opacity="0.75"/>
<path d="M451.5,87.1 L465.8,87.1 C478.3,87.1 557.3,71.3 569.8,71.3 L583.5,71.3" stroke="#ff6e6e" stroke-width="0.54" fill="none" opacity="0.75"/>
<path d="M451.5,163.7 L474.3,163.7 C485.9,163.7 559.2,37.6 570.8,37.6 L583.5,37.6" stroke="#f9fc81" stroke-width="0.53" fill="none" opacity="0.75"/>
<path d="M451.5,72.1 L463.6,72.1 C476.2,72.1 556.4,114.1 569.0,114.1 L583.5,114.1" stroke="#f3eb86" stroke-width="0.40" fill="none" opacity="0.75"/>
<path d="M451.5,151.4 L466.4,151.4 C478.1,151.4 551.8,45.0 563.4,45.0 L583.5,45.0" stroke="#f9fc81" stroke-width="0.43" fill="none" opacity="0.75"/>
<path d="M451.5,108.1 L466.5,108.1 C478.4,108.1 554.1,119.2 566.0,119.2 L583.5,119.2" stroke="#c3fcee" stroke-width="0.37" fill="none" opacity="0.75"/>
<path d="M451.5,182.5 L462.3,182.5 C474.9,182.5 555.0,79.4 567.7,79.4 L583.5,79.4" stroke="#f7ebce" stroke-width="0.39" fill="none" opacity="0.75"/>
<path d="M451.5,66.8 L463.5,66.8 C476.4,66.8 558.3,114.4 571.2,114.4 L583.5,114.4" stroke="#a1bd79" stroke-width="0.64" fill="none" opacity="0.75"/>
<path d="M451.5,169.6 L466.7,169.6 C479.5,169.6 560.5,98.2 573.3,98.2 L583.5,98.2" stroke="#f9fc81" stroke-width="0.62" fill="none" opacity="0.75"/>
<path d="M451.5,83.7 L466.7,83.7 C479.0,83.7 557.0,113.1 569.3,113.1 L583.5,113.1" stroke="#ff6e6e" stroke-width="0.41" fill="none" opacity="0.75"/>
<path d="M451.5,105.0 L463.0,105.0 C476.4,105.0 561.6,75.3 575.0,75.3 L583.5,75.3" stroke="#c3fcee" stroke-width="0.67" fill="none" opacity="0.75"/>
<path d="M451.5,192.2 L468.4,192.2 C479.6,192.2 550.6,121.6 561.8,121.6 L583.5,121.6" stroke="#f6ccd6" stroke-width="0.69" fill="none" opacity="0.75"/>
<path d="M451.5,189.6 L476.3,189.6 C487.0,189.6 555.1,56.9 565.8,56.9 L583.5,56.9" stroke="#f6ccd6" stroke-width="0.60" fill="none" opacity="0.75"/>
<path d="M451.5,121.5 L464.4,121.5 C477.5,121.5 561.0,63.4 574.1,63.4 L583.5,63.4" stroke="#eceefc" stroke-width="0.44" fill="none" opacity="0.75"/>
<path d="M451.5,133.1 L460.8,133.1 C473.0,133.1 550.2,63.2 562.4,63.2 L583.5,63.2" stroke="#86fd61" stroke-width="0.62" fill="none" opacity="0.75"/>
<path d="M451.5,150.6 L477.5,150.6 C488.3,150.6 556.3,125.9 567.0,125.9 L583.5,125.9" stroke="#f9fc81" stroke-width="0.66" fill="none" opacity="0.75"/>
<path d="M451.5,37.2 L465.8,37.2 C477.8,37.2 553.8,108.3 565.8,108.3 L583.5,108.3" stroke="#a0f7fc" stroke-width="0.37" fill="none" opacity="0.75"/>
<path d="M451.5,122.5 L471.9,122.5 C483.7,122.5 558.5,75.7 570.3,75.7 L583.5,75.7" stroke="#eceefc" stroke-width="0.68" fill="none" opacity="0.75"/>
<path d="M451.5,77.1 L475.2,77.1 C486.6,77.1 558.8,119.8 570.2,119.8 L583.5,119.8" stroke="#ff6e6e" stroke-width="0.49" fill="none" opacity="0.75"/>
<path d="M451.5,67.9 L463.3,67.9 C475.3,67.9 551.9,87.6 564.0,87.6 L583.5,87.6" stroke="#f3eb86" stroke-width="0.63" fill="none" opacity="0.75"/>
<path d="M451.5,188.7 L460.0,188.7 C472.8,188.7 553.5,114.3 566.3,114.3 L583.5,114.3" stroke="#f6ccd6" stroke-width="0.63" fill="none" opacity="0.75"/>
<path d="M451.5,178.8 L465.2,178.8 C477.5,178.8 555.4,39.9 567.7,39.9 L583.5,39.9" stroke="#f9fc81" stroke-width="0.41" fill="none" opacity="0.75"/>
<path d="M451.5,105.5 L459.9,105.5 C473.7,105.5 560.6,81.5 574.3,81.5 L583.5,81.5" stroke="#c3fcee" stroke-width="0.61" fill="none" opacity="0.75"/>
<path d="M451.5,56.1 L479.0,56.1 C489.1,56.1 553.0,47.3 563.1,47.3 L583.5,47.3" stroke="#f0b8a8" stroke-width="0.33" fill="none" opacity="0.75"/>
<path d="M451.5,49.4 L466.1,49.4 C478.6,49.4 557.7,84.4 570.2,84.4 L583.5,84.4" stroke="#c3f8c3" stroke-width="0.43" fill="none" opacity="0.75"/>
<path d="M451.5,142.8 L463.6,142.8 C476.5,142.8 557.7,92.7 570.5,92.7 L583.5,92.7" stroke="#fc7bfc" stroke-width="0.44" fill="none" opacity="0.75"/>
<path d="M451.5,55.6 L467.4,55.6 C480.1,55.6 561.2,89.7 574.0,89.7 L583.5,89.7" stroke="#f0b8a8" stroke-width="0.59" fill="none" opacity="0.75"/>
<path d="M451.5,64.8 L475.2,64.8 C486.6,64.8 558.4,71.7 569.8,71.7 L583.5,71.7" stroke="#c163fd" stroke-width="0.54" fill="none" opacity="0.75"/>
<path d="M451.5,168.6 L467.2,168.6 C479.3,168.6 556.0,96.3 568.2,96.3 L583.5,96.3" stroke="#f9fc81" stroke-width="0.47" fill="none" opacity="0.75"/>
<path d="M451.5,152.2 L468.9,152.2 C481.3,152.2 559.3,76.4 571.7,76.4 L583.5,76.4" stroke="#f9fc81" stroke-width="0.58" fill="none" opacity="0.75"/>
<path d="M451.5,124.3 L468.2,124.3 C480.3,124.3 557.0,103.4 569.1,103.4 L583.5,103.4" stroke="#86fd61" stroke-width="0.33" fill="none" opacity="0.75"/>
<path d="M451.5,181.6 L477.5,181.6 C487.9,181.6 553.6,127.2 564.0,127.2 L583.5,127.2" stroke="#f9fc81" stroke-width="0.45" fill="none" opacity="0.75"/>
<path d="M451.5,78.7 L475.8,78.7 C486.6,78.7 555.0,80.7 565.8,80.7 L583.5,80.7" stroke="#ff6e6e" stroke-width="0.35" fill="none" opacity="0.75"/>
<path d="M451.5,182.9 L474.3,182.9 C485.4,182.9 556.1,113.0 567.2,113.0 L583.5,113.0" stroke="#f7ebce" stroke-width="0.57" fill="none" opacity="0.75"/>
<path d="M451.5,52.2 L462.7,52.2 C474.9,52.2 552.1,92.8 564.3,92.8 L583.5,92.8" stroke="#b56464" stroke-width="0.30" fill="none" opacity="0.75"/>
<path d="M451.5,42.4 L477.2,42.4 C488.6,42.4 561.1,44.0 572.6,44.0 L583.5,44.0" stroke="#f3c37e" stroke-width="0.34" fill="none" opacity="0.75"/>
<path d="M451.5,38.9 L476.4,38.9 C487.1,38.9 555.0,117.8 565.7,117.8 L583.5,117.8" stroke="#a0f7fc" stroke-width="0.35" fill="none" opacity="0.75"/>
<path d="M451.5,174.4 L475.6,174.4 C487.4,174.4 562.7,128.7 574.6,128.7 L583.5,128.7" stroke="#f9fc81" stroke-width="0.53" fill="none" opacity="0.75"/>
<path d="M451.5,162.9 L462.0,162.9 C474.3,162.9 552.3,85.3 564.6,85.3 L583.5,85.3" stroke="#f9fc81" stroke-width="0.59" fill="none" opacity="0.75"/>
<path d="M451.5,190.8 L471.0,190.8 C482.1,190.8 552.4,41.0 563.5,41.0 L583.5,41.0" stroke="#f6ccd6" stroke-width="0.43" fill="none" opacity="0.75"/>
<path d="M451.5,75.4 L472.0,75.4 C483.1,75.4 553.4,52.7 564.6,52.7 L583.5,52.7" stroke="#ff6e6e" stroke-width="0.40" fill="none" opacity="0.75"/>
<path d="M451.5,100.6 L466.8,100.6 C479.1,100.6 556.9,71.2 569.2,71.2 L583.5,71.2" stroke="#c3fcee" stroke-width="0.46" fill="none" opacity="0.75"/>
<path d="M451.5,48.9 L468.0,48.9 C479.6,48.9 553.0,84.2 564.6,84.2 L583.5,84.2" stroke="#c3f8c3" stroke-width="0.69" fill="none" opacity="0.75"/>
<path d="M451.5,61.8 L473.1,61.8 C484.5,61.8 556.5,103.0 567.9,103.0 L583.5,103.0" stroke="#c163fd" stroke-width="0.60" fill="none" opacity="0.75"/>
<path d="M451.5,74.3 L462.9,74.3 C476.3,74.3 560.8,156.0 574.2,156.0 L583.5,156.0" stroke="#ff6e6e" stroke-width="0.46" fill="none" opacity="0.75"/>
<path d="M451.5,101.9 L474.9,101.9 C486.5,101.9 560.3,217.4 572.0,217.4 L583.5,217.4" stroke="#c3fcee" stroke-width="0.62" fill="none" opacity="0.75"/>
<path d="M451.5,124.5 L462.0,124.5 C475.2,124.5 558.9,169.1 572.1,169.1 L583.5,169.1" stroke="#86fd61" stroke-width="0.37" fill="none" opacity="0.75"/>
<path d="M451.5,189.6 L475.6,189.6 C487.2,189.6 560.8,210.7 572.4,210.7 L583.5,210.7" stroke="#f6ccd6" stroke-width="0.62" fill="none" opacity="0.75"/>
<path d="M451.5,86.7 L476.7,86.7 C487.0,86.7 552.4,195.5 562.8,195.5 L583.5,195.5" stroke="#ff6e6e" stroke-width="0.59" fill="none" opacity="0.75"/>
<path d="M451.5,49.5 L469.8,49.5 C482.2,49.5 560.3,193.9 572.6,193.9 L583.5,193.9" stroke="#c3f8c3" stroke-width="0.57" fill="none" opacity="0.75"/>
<path d="M451.5,113.9 L476.9,113.9 C487.7,113.9 556.6,154.9 567.4,154.9 L583.5,154.9" stroke="#ddc8af" stroke-width="0.67" fill="none" opacity="0.75"/>
<path d="M451.5,85.1 L477.2,85.1 C487.5,85.1 552.9,216.7 563.2,216.7 L583.5,216.7" stroke="#ff6e6e" stroke-width="0.53" fill="none" opacity="0.75"/>
<path d="M451.5,119.7 L468.3,119.7 C480.9,119.7 560.3,179.4 572.8,179.4 L583.5,179.4" stroke="#6868c5" stroke-width="0.54" fill="none" opacity="0.75"/>
<path d="M451.5,85.9 L460.8,85.9 C473.5,85.9 553.7,209.5 566.3,209.5 L583.5,209.5" stroke="#ff6e6e" stroke-width="0.32" fill="none" opacity="0.75"/>
<path d="M451.5,81.7 L466.6,81.7 C478.0,81.7 549.8,188.5 561.1,188.5 L583.5,188.5" stroke="#ff6e6e" stroke-width="0.49" fill="none" opacity="0.75"/>
<path d="M451.5,67.6 L472.3,67.6 C484.2,67.6 559.4,179.3 571.2,179.3 L583.5,179.3" stroke="#f3eb86" stroke-width="0.38" fill="none" opacity="0.75"/>
<path d="M451.5,94.3 L470.8,94.3 C481.8,94.3 551.4,204.5 562.4,204.5 L583.5,204.5" stroke="#c3fcee" stroke-width="0.43" fill="none" opacity="0.75"/>
<path d="M451.5,51.8 L474.9,51.8 C485.9,51.8 555.5,152.8 566.5,152.8 L583.5,152.8" stroke="#b56464" stroke-width="0.39" fill="none" opacity="0.75"/>
<path d="M451.5,74.6 L468.9,74.6 C481.6,74.6 561.8,173.2 574.5,173.2 L583.5,173.2" stroke="#ff6e6e" stroke-width="0.37" fill="none" opacity="0.75"/>
<path d="M451.5,151.2 L474.3,151.2 C484.8,151.2 551.2,215.8 561.7,215.8 L583.5,215.8" stroke="#f9fc81" stroke-width="0.68" fill="none" opacity="0.75"/>
<path d="M451.5,38.0 L475.1,38.0 C486.4,38.0 558.0,170.0 569.4,170.0 L583.5,170.0" stroke="#a0f7fc" stroke-width="0.69" fill="none" opacity="0.75"/>
<path d="M451.5,192.2 L465.7,192.2 C478.5,192.2 559.6,195.0 572.4,195.0 L583.5,195.0" stroke="#f6ccd6" stroke-width="0.63" fill="none" opacity="0.75"/>
<path d="M451.5,109.0 L478.8,109.0 C489.8,109.0 559.5,158.5 570.5,158.5 L583.5,158.5" stroke="#c3fcee" stroke-width="0.45" fill="none" opacity="0.75"/>
<path d="M451.5,36.6 L475.3,36.6 C486.6,36.6 558.7,151.6 570.0,151.6 L583.5,151.6" stroke="#a0f7fc" stroke-width="0.37" fill="none" opacity="0.75"/>
<path d="M451.5,83.4 L468.2,83.4 C480.7,83.4 559.7,155.5 572.2,155.5 L583.5,155.5" stroke="#ff6e6e" stroke-width="0.69" fill="none" opacity="0.75"/>
<path d="M451.5,44.9 L473.2,44.9 C485.1,44.9 561.0,152.4 573.0,152.4 L583.5,152.4" stroke="#c3f8c3" stroke-width="0.37" fill="none" opacity="0.75"/>
<path d="M451.5,41.8 L479.5,41.8 C490.7,41.8 562.1,185.2 573.4,185.2 L583.5,185.2" stroke="#f3c37e" stroke-width="0.40" fill="none" opacity="0.75"/>
<path d="M451.5,123.2 L479.3,123.2 C490.0,123.2 557.7,206.5 568.4,206.5 L583.5,206.5" stroke="#eceefc" stroke-width="0.46" fill="none" opacity="0.75"/>
<path d="M451.5,75.3 L468.2,75.3 C480.6,75.3 559.2,179.2 571.6,179.2 L583.5,179.2" stroke="#ff6e6e" stroke-width="0.31" fill="none" opacity="0.75"/>
<path d="M451.5,183.2 L460.5,183.2 C473.8,183.2 558.2,210.9 571.5,210.9 L583.5,210.9" stroke="#f7ebce" stroke-width="0.50" fill="none" opacity="0.75"/>
<path d="M451.5,75.4 L476.9,75.4 C488.5,75.4 561.6,163.9 573.1,163.9 L583.5,163.9" stroke="#ff6e6e" stroke-width="0.39" fill="none" opacity="0.75"/>
<path d="M451.5,43.5 L479.3,43.5 C490.1,43.5 558.6,218.2 569.5,218.2 L583.5,218.2" stroke="#f3c37e" stroke-width="0.53" fill="none" opacity="0.75"/>
<path d="M451.5,185.2 L474.5,185.2 C485.7,185.2 556.9,197.5 568.2,197.5 L583.5,197.5" stroke="#f6ccd6" stroke-width="0.62" fill="none" opacity="0.75"/>
<path d="M451.5,50.5 L477.5,50.5 C487.7,50.5 552.0,164.1 562.2,164.1 L583.5,164.1" stroke="#c3f8c3" stroke-width="0.65" fill="none" opacity="0.75"/>
<path d="M451.5,91.1 L472.5,91.1 C483.4,91.1 552.7,197.7 563.7,197.7 L583.5,197.7" stroke="#ff6e6e" stroke-width="0.62" fill="none" opacity="0.75"/>
<path d="M451.5,123.0 L465.2,123.0 C476.8,123.0 550.5,197.6 562.2,197.6 L583.5,197.6" stroke="#eceefc" stroke-width="0.57" fill="none" opacity="0.75"/>
<path d="M451.5,194.4 L478.8,194.4 C489.2,194.4 555.3,153.8 565.7,153.8 L583.5,153.8" stroke="#f6ccd6" stroke-width="0.69" fill="none" opacity="0.75"/>
<path d="M451.5,42.4 L478.9,42.4 C489.3,42.4 555.3,216.0 565.8,216.0 L583.5,216.0" stroke="#f3c37e" stroke-width="0.35" fill="none" opacity="0.75"/>
<path d="M451.5,45.1 L471.1,45.1 C482.3,45.1 553.4,160.8 564.6,160.8 L583.5,160.8" stroke="#c3f8c3" stroke-width="0.55" fill="none" opacity="0.75"/>
<path d="M451.5,189.6 L478.0,189.6 C489.6,189.6 563.3,164.7 574.9,164.7 L583.5,164.7" stroke="#f6ccd6" stroke-width="0.30" fill="none" opacity="0.75"/>
<path d="M451.5,181.1 L475.2,181.1 C485.8,181.1 552.3,156.9 562.8,156.9 L583.5,156.9" stroke="#f9fc81" stroke-width="0.62" fill="none" opacity="0.75"/>
<path d="M451.5,126.8 L473.1,126.8 C484.8,126.8 558.8,214.5 570.5,214.5 L583.5,214.5" stroke="#86fd61" stroke-width="0.38" fill="none" opacity="0.75"/>
<path d="M451.5,183.7 L470.2,183.7 C482.8,183.7 562.2,206.5 574.7,206.5 L583.5,206.5" stroke="#f7ebce" stroke-width="0.49" fill="none" opacity="0.75"/>
<path d="M451.5,40.7 L476.8,40.7 C487.6,40.7 555.8,193.0 566.6,193.0 L583.5,193.0" stroke="#f3c37e" stroke-width="0.50" fill="none" opacity="0.75"/>
<path d="M451.5,58.1 L470.2,58.1 C482.7,58.1 562.4,175.5 575.0,175.5 L583.5,175.5" stroke="#c163fd" stroke-width="0.61" fill="none" opacity="0.75"/>
<path d="M451.5,174.6 L470.6,174.6 C482.5,174.6 557.9,210.6 569.8,210.6 L583.5,210.6" stroke="#f9fc81" stroke-width="0.33" fill="none" opacity="0.75"/>
<path d="M451.5,166.3 L469.4,166.3 C480.5,166.3 550.5,171.7 561.6,171.7 L583.5,171.7" stroke="#f9fc81" stroke-width="0.39" fill="none" opacity="0.75"/>
<path d="M451.5,50.9 L477.3,50.9 C488.1,50.9 557.0,156.8 567.9,156.8 L583.5,156.8" stroke="#c3f8c3" stroke-width="0.55" fill="none" opacity="0.75"/>
<path d="M451.5,107.3 L461.2,107.3 C473.4,107.3 550.6,212.9 562.8,212.9 L583.5,212.9" stroke="#c3fcee" stroke-width="0.61" fill="none" opacity="0.75"/>
<clipPath id="cd32"><rect x="262" y="191" width="48" height="30"/></clipPath>
<clipPath id="cd21"><rect x="395" y="199" width="51" height="50"/></clipPath>
<g clip-path="url(#cd32)">
<path d="M178.5,37.10 L194.5,37.10 C212.0,37.10 274.0,193.60 291.5,193.60 L309.5,193.60 L309.5,193.86 L291.5,193.86 C274.0,193.86 212.0,37.40 194.5,37.40 L178.5,37.40Z" fill="#6ef4fb"/>
<path d="M178.5,39.40 L194.5,39.40 C212.0,39.40 274.0,193.86 291.5,193.86 L309.5,193.86 L309.5,194.12 L291.5,194.12 C274.0,194.12 212.0,39.70 194.5,39.70 L178.5,39.70Z" fill="#eda33a"/>
<path d="M178.5,46.90 L194.5,46.90 C212.0,46.90 274.0,194.12 291.5,194.12 L309.5,194.12 L309.5,194.81 L291.5,194.81 C274.0,194.81 212.0,47.70 194.5,47.70 L178.5,47.70Z" fill="#a3f5a3"/>
<path d="M178.5,50.60 L194.5,50.60 C212.0,50.60 274.0,194.81 291.5,194.81 L309.5,194.81 L309.5,195.07 L291.5,195.07 C274.0,195.07 212.0,50.90 194.5,50.90 L178.5,50.90Z" fill="#8e1212"/>
<path d="M178.5,53.90 L194.5,53.90 C212.0,53.90 274.0,195.07 291.5,195.07 L309.5,195.07 L309.5,195.33 L291.5,195.33 C274.0,195.33 212.0,54.40 194.5,54.40 L178.5,54.40Z" fill="#e8937a"/>
<path d="M178.5,57.40 L194.5,57.40 C212.0,57.40 274.0,195.33 291.5,195.33 L309.5,195.33 L309.5,197.93 L291.5,197.93 C274.0,197.93 212.0,60.40 194.5,60.40 L178.5,60.40Z" fill="#a010fc"/>
<path d="M178.5,61.10 L194.5,61.10 C212.0,61.10 274.0,197.93 291.5,197.93 L309.5,197.93 L309.5,198.11 L291.5,198.11 C274.0,198.11 212.0,61.30 194.5,61.30 L178.5,61.30Z" fill="#99d8fa"/>
<path d="M178.5,62.00 L194.5,62.00 C212.0,62.00 274.0,198.11 291.5,198.11 L309.5,198.11 L309.5,198.28 L291.5,198.28 C274.0,198.28 212.0,62.20 194.5,62.20 L178.5,62.20Z" fill="#6f9a32"/>
<path d="M178.5,66.40 L194.5,66.40 C212.0,66.40 274.0,198.28 291.5,198.28 L309.5,198.28 L309.5,198.63 L291.5,198.63 C274.0,198.63 212.0,66.80 194.5,66.80 L178.5,66.80Z" fill="#ede145"/>
<path d="M178.5,79.30 L194.5,79.30 C212.0,79.30 274.0,198.63 291.5,198.63 L309.5,198.63 L309.5,201.57 L291.5,201.57 C274.0,201.57 212.0,82.70 194.5,82.70 L178.5,82.70Z" fill="#ff2121"/>
<path d="M178.5,91.20 L194.5,91.20 C212.0,91.20 274.0,201.57 291.5,201.57 L309.5,201.57 L309.5,204.00 L291.5,204.00 C274.0,204.00 212.0,94.00 194.5,94.00 L178.5,94.00Z" fill="#a3fbe6"/>
<path d="M178.5,97.40 L194.5,97.40 C212.0,97.40 274.0,204.00 291.5,204.00 L309.5,204.00 L309.5,204.26 L291.5,204.26 C274.0,204.26 212.0,97.70 194.5,97.70 L178.5,97.70Z" fill="#cbab84"/>
<path d="M178.5,100.30 L194.5,100.30 C212.0,100.30 274.0,204.26 291.5,204.26 L309.5,204.26 L309.5,204.60 L291.5,204.60 C274.0,204.60 212.0,100.70 194.5,100.70 L178.5,100.70Z" fill="#1717a6"/>
<path d="M178.5,103.60 L194.5,103.60 C212.0,103.60 274.0,204.60 291.5,204.60 L309.5,204.60 L309.5,204.78 L291.5,204.78 C274.0,204.78 212.0,103.80 194.5,103.80 L178.5,103.80Z" fill="#e2e5fb"/>
<path d="M178.5,116.20 L194.5,116.20 C212.0,116.20 274.0,204.78 291.5,204.78 L309.5,204.78 L309.5,207.90 L291.5,207.90 C274.0,207.90 212.0,119.80 194.5,119.80 L178.5,119.80Z" fill="#45fc0c"/>
<path d="M178.5,124.80 L194.5,124.80 C212.0,124.80 274.0,207.90 291.5,207.90 L309.5,207.90 L309.5,208.42 L291.5,208.42 C274.0,208.42 212.0,125.40 194.5,125.40 L178.5,125.40Z" fill="#fb35fb"/>
<path d="M178.5,126.80 L194.5,126.80 C212.0,126.80 274.0,208.42 291.5,208.42 L309.5,208.42 L309.5,208.59 L291.5,208.59 C274.0,208.59 212.0,127.00 194.5,127.00 L178.5,127.00Z" fill="#f9378f"/>
<path d="M178.5,128.30 L194.5,128.30 C212.0,128.30 274.0,208.59 291.5,208.59 L309.5,208.59 L309.5,208.76 L291.5,208.76 C274.0,208.76 212.0,128.60 194.5,128.60 L178.5,128.60Z" fill="#ef8727"/>
<path d="M178.5,148.80 L194.5,148.80 C212.0,148.80 274.0,213.27 291.5,213.27 L309.5,213.27 L309.5,213.44 L291.5,213.44 C274.0,213.44 212.0,149.00 194.5,149.00 L178.5,149.00Z" fill="#f4e1b5"/>
</g>
<g clip-path="url(#cd21)">
<path d="M315.5,38.20 L331.5,38.20 C348.8,38.20 410.2,201.70 427.5,201.70 L445.5,201.70 L445.5,202.29 L427.5,202.29 C410.2,202.29 348.8,38.80 331.5,38.80 L315.5,38.80Z" fill="#6ef4fb"/>
<path d="M315.5,42.10 L331.5,42.10 C348.8,42.10 410.2,202.29 427.5,202.29 L445.5,202.29 L445.5,202.58 L427.5,202.58 C410.2,202.58 348.8,42.40 331.5,42.40 L315.5,42.40Z" fill="#eda33a"/>
<path d="M315.5,49.80 L331.5,49.80 C348.8,49.80 410.2,202.58 427.5,202.58 L445.5,202.58 L445.5,203.26 L427.5,203.26 C410.2,203.26 348.8,50.90 331.5,50.90 L315.5,50.90Z" fill="#a3f5a3"/>
<path d="M315.5,54.10 L331.5,54.10 C348.8,54.10 410.2,203.26 427.5,203.26 L445.5,203.26 L445.5,203.46 L427.5,203.46 C410.2,203.46 348.8,54.40 331.5,54.40 L315.5,54.40Z" fill="#8e1212"/>
<path d="M315.5,56.50 L331.5,56.50 C348.8,56.50 410.2,203.46 427.5,203.46 L445.5,203.46 L445.5,203.65 L427.5,203.65 C410.2,203.65 348.8,57.40 331.5,57.40 L315.5,57.40Z" fill="#e8937a"/>
<path d="M315.5,58.90 L331.5,58.90 C348.8,58.90 410.2,203.65 427.5,203.65 L445.5,203.65 L445.5,209.12 L427.5,209.12 C410.2,209.12 348.8,64.50 331.5,64.50 L315.5,64.50Z" fill="#a010fc"/>
<path d="M315.5,65.60 L331.5,65.60 C348.8,65.60 410.2,209.12 427.5,209.12 L445.5,209.12 L445.5,209.32 L427.5,209.32 C410.2,209.32 348.8,65.80 331.5,65.80 L315.5,65.80Z" fill="#99d8fa"/>
<path d="M315.5,66.80 L331.5,66.80 C348.8,66.80 410.2,209.32 427.5,209.32 L445.5,209.32 L445.5,209.51 L427.5,209.51 C410.2,209.51 348.8,67.20 331.5,67.20 L315.5,67.20Z" fill="#6f9a32"/>
<path d="M315.5,72.00 L331.5,72.00 C348.8,72.00 410.2,209.51 427.5,209.51 L445.5,209.51 L445.5,210.00 L427.5,210.00 C410.2,210.00 348.8,72.50 331.5,72.50 L315.5,72.50Z" fill="#ede145"/>
<path d="M315.5,85.60 L331.5,85.60 C348.8,85.60 410.2,210.00 427.5,210.00 L445.5,210.00 L445.5,217.03 L427.5,217.03 C410.2,217.03 348.8,92.80 331.5,92.80 L315.5,92.80Z" fill="#ff2121"/>
<path d="M315.5,103.40 L331.5,103.40 C348.8,103.40 410.2,217.03 427.5,217.03 L445.5,217.03 L445.5,221.82 L427.5,221.82 C410.2,221.82 348.8,108.30 331.5,108.30 L315.5,108.30Z" fill="#a3fbe6"/>
<path d="M315.5,111.50 L331.5,111.50 C348.8,111.50 410.2,221.82 427.5,221.82 L445.5,221.82 L445.5,222.11 L427.5,222.11 C410.2,222.11 348.8,111.80 331.5,111.80 L315.5,111.80Z" fill="#cbab84"/>
<path d="M315.5,114.70 L331.5,114.70 C348.8,114.70 410.2,222.11 427.5,222.11 L445.5,222.11 L445.5,223.57 L427.5,223.57 C410.2,223.57 348.8,116.20 331.5,116.20 L315.5,116.20Z" fill="#1717a6"/>
<path d="M315.5,120.10 L331.5,120.10 C348.8,120.10 410.2,223.57 427.5,223.57 L445.5,223.57 L445.5,223.77 L427.5,223.77 C410.2,223.77 348.8,120.30 331.5,120.30 L315.5,120.30Z" fill="#e2e5fb"/>
<path d="M315.5,131.40 L331.5,131.40 C348.8,131.40 410.2,223.77 427.5,223.77 L445.5,223.77 L445.5,229.24 L427.5,229.24 C410.2,229.24 348.8,137.00 331.5,137.00 L315.5,137.00Z" fill="#45fc0c"/>
<path d="M315.5,142.30 L331.5,142.30 C348.8,142.30 410.2,229.24 427.5,229.24 L445.5,229.24 L445.5,229.92 L427.5,229.92 C410.2,229.92 348.8,145.40 331.5,145.40 L315.5,145.40Z" fill="#fb35fb"/>
<path d="M315.5,146.60 L331.5,146.60 C348.8,146.60 410.2,229.92 427.5,229.92 L445.5,229.92 L445.5,230.12 L427.5,230.12 C410.2,230.12 348.8,146.80 331.5,146.80 L315.5,146.80Z" fill="#f9378f"/>
<path d="M315.5,147.90 L331.5,147.90 C348.8,147.90 410.2,230.12 427.5,230.12 L445.5,230.12 L445.5,230.31 L427.5,230.31 C410.2,230.31 348.8,148.10 331.5,148.10 L315.5,148.10Z" fill="#ef8727"/>
<path d="M315.5,175.30 L331.5,175.30 C348.8,175.30 410.2,238.52 427.5,238.52 L445.5,238.52 L445.5,238.81 L427.5,238.81 C410.2,238.81 348.8,175.60 331.5,175.60 L315.5,175.60Z" fill="#f4e1b5"/>
</g>
<path d="M178.5,141.50 L194.5,141.50 C212.0,141.50 274.0,208.76 291.5,208.76 L309.5,208.76 L309.5,213.27 L291.5,213.27 C274.0,213.27 212.0,146.70 194.5,146.70 L178.5,146.70Z" fill="#f6fb3e"/>
<path d="M178.5,161.70 L194.5,161.70 C212.0,161.70 274.0,213.44 291.5,213.44 L309.5,213.44 L309.5,215.00 L291.5,215.00 C274.0,215.00 212.0,163.50 194.5,163.50 L178.5,163.50Z" fill="#f2b1c1"/>
<path d="M315.5,165.10 L331.5,165.10 C348.8,165.10 410.2,230.31 427.5,230.31 L445.5,230.31 L445.5,238.52 L427.5,238.52 C410.2,238.52 348.8,173.50 331.5,173.50 L315.5,173.50Z" fill="#f6fb3e"/>
<path d="M315.5,187.80 L331.5,187.80 C348.8,187.80 410.2,238.81 427.5,238.81 L445.5,238.81 L445.5,243.30 L427.5,243.30 C410.2,243.30 348.8,192.40 331.5,192.40 L315.5,192.40Z" fill="#f2b1c1"/>
<rect x="35" y="35.00" width="7" height="4.20" fill="#6ef4fb"/>
<rect x="35" y="39.20" width="7" height="5.80" fill="#eda33a"/>
<rect x="35" y="45.00" width="7" height="21.00" fill="#a3f5a3"/>
<rect x="35" y="66.00" width="7" height="10.90" fill="#8e1212"/>
<rect x="35" y="76.90" width="7" height="9.90" fill="#e8937a"/>
<rect x="35" y="86.80" width="7" height="18.20" fill="#a010fc"/>
<rect x="35" y="105.00" width="7" height="5.00" fill="#99d8fa"/>
<rect x="35" y="110.00" width="7" height="3.80" fill="#6f9a32"/>
<rect x="35" y="113.80" width="7" height="6.00" fill="#ede145"/>
<rect x="35" y="119.80" width="7" height="24.10" fill="#ff2121"/>
<rect x="35" y="143.90" width="7" height="15.90" fill="#a3fbe6"/>
<rect x="35" y="159.80" width="7" height="6.70" fill="#cbab84"/>
<rect x="35" y="166.50" width="7" height="7.10" fill="#1717a6"/>
<rect x="35" y="173.60" width="7" height="5.60" fill="#e2e5fb"/>
<rect x="35" y="179.20" width="7" height="30.30" fill="#45fc0c"/>
<rect x="35" y="209.50" width="7" height="11.70" fill="#fb35fb"/>
<rect x="35" y="221.20" width="7" height="5.00" fill="#f9378f"/>
<rect x="35" y="226.20" width="7" height="4.70" fill="#ef8727"/>
<rect x="35" y="230.90" width="7" height="26.60" fill="#f6fb3e"/>
<rect x="35" y="257.50" width="7" height="5.30" fill="#f4e1b5"/>
<rect x="35" y="262.80" width="7" height="33.60" fill="#f2b1c1"/>
<rect x="172.5" y="35.00" width="6" height="2.40" fill="#6ef4fb"/>
<rect x="172.5" y="37.40" width="6" height="2.30" fill="#eda33a"/>
<rect x="172.5" y="39.70" width="6" height="8.00" fill="#a3f5a3"/>
<rect x="172.5" y="47.70" width="6" height="3.20" fill="#8e1212"/>
<rect x="172.5" y="50.90" width="6" height="3.50" fill="#e8937a"/>
<rect x="172.5" y="54.40" width="6" height="6.00" fill="#a010fc"/>
<rect x="172.5" y="60.40" width="6" height="0.90" fill="#99d8fa"/>
<rect x="172.5" y="61.30" width="6" height="0.90" fill="#6f9a32"/>
<rect x="172.5" y="62.20" width="6" height="4.60" fill="#ede145"/>
<rect x="172.5" y="66.80" width="6" height="15.90" fill="#ff2121"/>
<rect x="172.5" y="82.70" width="6" height="11.30" fill="#a3fbe6"/>
<rect x="172.5" y="94.00" width="6" height="3.70" fill="#cbab84"/>
<rect x="172.5" y="97.70" width="6" height="3.00" fill="#1717a6"/>
<rect x="172.5" y="100.70" width="6" height="3.10" fill="#e2e5fb"/>
<rect x="172.5" y="103.80" width="6" height="16.00" fill="#45fc0c"/>
<rect x="172.5" y="119.80" width="6" height="5.60" fill="#fb35fb"/>
<rect x="172.5" y="125.40" width="6" height="1.60" fill="#f9378f"/>
<rect x="172.5" y="127.00" width="6" height="1.60" fill="#ef8727"/>
<rect x="172.5" y="128.60" width="6" height="18.10" fill="#f6fb3e"/>
<rect x="172.5" y="146.70" width="6" height="2.30" fill="#f4e1b5"/>
<rect x="172.5" y="149.00" width="6" height="14.50" fill="#f2b1c1"/>
<rect x="172.5" y="163.50" width="6" height="27.80" fill="#e8ee97"/>
<rect x="309.5" y="35.00" width="6" height="3.80" fill="#6ef4fb"/>
<rect x="309.5" y="38.80" width="6" height="3.60" fill="#eda33a"/>
<rect x="309.5" y="42.40" width="6" height="8.50" fill="#a3f5a3"/>
<rect x="309.5" y="50.90" width="6" height="3.50" fill="#8e1212"/>
<rect x="309.5" y="54.40" width="6" height="3.00" fill="#e8937a"/>
<rect x="309.5" y="57.40" width="6" height="7.10" fill="#a010fc"/>
<rect x="309.5" y="64.50" width="6" height="1.30" fill="#99d8fa"/>
<rect x="309.5" y="65.80" width="6" height="1.40" fill="#6f9a32"/>
<rect x="309.5" y="67.20" width="6" height="5.30" fill="#ede145"/>
<rect x="309.5" y="72.50" width="6" height="20.30" fill="#ff2121"/>
<rect x="309.5" y="92.80" width="6" height="15.50" fill="#a3fbe6"/>
<rect x="309.5" y="108.30" width="6" height="3.50" fill="#cbab84"/>
<rect x="309.5" y="111.80" width="6" height="4.40" fill="#1717a6"/>
<rect x="309.5" y="116.20" width="6" height="4.10" fill="#e2e5fb"/>
<rect x="309.5" y="120.30" width="6" height="16.70" fill="#45fc0c"/>
<rect x="309.5" y="137.00" width="6" height="8.40" fill="#fb35fb"/>
<rect x="309.5" y="145.40" width="6" height="1.40" fill="#f9378f"/>
<rect x="309.5" y="146.80" width="6" height="1.30" fill="#ef8727"/>
<rect x="309.5" y="148.10" width="6" height="25.40" fill="#f6fb3e"/>
<rect x="309.5" y="173.50" width="6" height="2.10" fill="#f4e1b5"/>
<rect x="309.5" y="175.60" width="6" height="16.80" fill="#f2b1c1"/>
<rect x="309.5" y="192.40" width="6" height="48.60" fill="#e8ee97"/>
<rect x="445.5" y="35.00" width="6" height="5.30" fill="#6ef4fb"/>
<rect x="445.5" y="40.30" width="6" height="3.90" fill="#eda33a"/>
<rect x="445.5" y="44.20" width="6" height="7.40" fill="#a3f5a3"/>
<rect x="445.5" y="51.60" width="6" height="3.20" fill="#8e1212"/>
<rect x="445.5" y="54.80" width="6" height="2.10" fill="#e8937a"/>
<rect x="445.5" y="56.90" width="6" height="8.10" fill="#a010fc"/>
<rect x="445.5" y="65.00" width="6" height="1.20" fill="#99d8fa"/>
<rect x="445.5" y="66.20" width="6" height="1.00" fill="#6f9a32"/>
<rect x="445.5" y="67.20" width="6" height="5.30" fill="#ede145"/>
<rect x="445.5" y="72.50" width="6" height="20.30" fill="#ff2121"/>
<rect x="445.5" y="92.80" width="6" height="19.50" fill="#a3fbe6"/>
<rect x="445.5" y="112.30" width="6" height="3.90" fill="#cbab84"/>
<rect x="445.5" y="116.20" width="6" height="4.10" fill="#1717a6"/>
<rect x="445.5" y="120.30" width="6" height="3.90" fill="#e2e5fb"/>
<rect x="445.5" y="124.20" width="6" height="15.90" fill="#45fc0c"/>
<rect x="445.5" y="140.10" width="6" height="5.30" fill="#fb35fb"/>
<rect x="445.5" y="145.40" width="6" height="1.80" fill="#f9378f"/>
<rect x="445.5" y="147.20" width="6" height="2.30" fill="#ef8727"/>
<rect x="445.5" y="149.50" width="6" height="32.20" fill="#f6fb3e"/>
<rect x="445.5" y="181.70" width="6" height="3.00" fill="#f4e1b5"/>
<rect x="445.5" y="184.70" width="6" height="17.00" fill="#f2b1c1"/>
<rect x="445.5" y="201.70" width="6" height="89.30" fill="#e8ee97"/>
<rect x="583.5" y="35.00" width="6.3" height="4.70" fill="#6ef4fb"/>
<rect x="583.5" y="39.70" width="6.3" height="1.30" fill="#eda33a"/>
<rect x="583.5" y="41.00" width="6.3" height="2.80" fill="#a3f5a3"/>
<rect x="583.5" y="43.80" width="6.3" height="1.20" fill="#8e1212"/>
<rect x="583.5" y="45.00" width="6.3" height="0.60" fill="#e8937a"/>
<rect x="583.5" y="45.60" width="6.3" height="3.20" fill="#a010fc"/>
<rect x="583.5" y="48.80" width="6.3" height="0.50" fill="#99d8fa"/>
<rect x="583.5" y="49.30" width="6.3" height="0.50" fill="#6f9a32"/>
<rect x="583.5" y="49.80" width="6.3" height="2.90" fill="#ede145"/>
<rect x="583.5" y="52.70" width="6.3" height="12.30" fill="#ff2121"/>
<rect x="583.5" y="65.00" width="6.3" height="14.20" fill="#a3fbe6"/>
<rect x="583.5" y="79.20" width="6.3" height="1.80" fill="#cbab84"/>
<rect x="583.5" y="81.00" width="6.3" height="2.50" fill="#1717a6"/>
<rect x="583.5" y="83.50" width="6.3" height="1.40" fill="#e2e5fb"/>
<rect x="583.5" y="84.90" width="6.3" height="7.90" fill="#45fc0c"/>
<rect x="583.5" y="92.80" width="6.3" height="3.60" fill="#fb35fb"/>
<rect x="583.5" y="96.40" width="6.3" height="0.40" fill="#f9378f"/>
<rect x="583.5" y="96.80" width="6.3" height="0.40" fill="#ef8727"/>
<rect x="583.5" y="97.20" width="6.3" height="25.50" fill="#f6fb3e"/>
<rect x="583.5" y="122.70" width="6.3" height="1.30" fill="#f4e1b5"/>
<rect x="583.5" y="124.00" width="6.3" height="9.40" fill="#f2b1c1"/>
<rect x="583.5" y="148.20" width="6.3" height="3.90" fill="#6ef4fb"/>
<rect x="583.5" y="152.10" width="6.3" height="3.90" fill="#eda33a"/>
<rect x="583.5" y="156.00" width="6.3" height="13.40" fill="#a3f5a3"/>
<rect x="583.5" y="169.40" width="6.3" height="7.50" fill="#8e1212"/>
<rect x="583.5" y="176.90" width="6.3" height="5.60" fill="#e8937a"/>
<rect x="583.5" y="182.50" width="6.3" height="13.50" fill="#a010fc"/>
<rect x="583.5" y="196.00" width="6.3" height="3.00" fill="#99d8fa"/>
<rect x="583.5" y="199.00" width="6.3" height="1.80" fill="#6f9a32"/>
<rect x="583.5" y="200.80" width="6.3" height="4.20" fill="#ede145"/>
<rect x="583.5" y="205.00" width="6.3" height="14.50" fill="#ff2121"/>
<rect x="583.5" y="219.50" width="6.3" height="9.30" fill="#a3fbe6"/>
<rect x="583.5" y="228.80" width="6.3" height="3.90" fill="#cbab84"/>
<rect x="583.5" y="232.70" width="6.3" height="5.00" fill="#1717a6"/>
<rect x="583.5" y="237.70" width="6.3" height="3.30" fill="#e2e5fb"/>
<rect x="583.5" y="241.00" width="6.3" height="20.00" fill="#45fc0c"/>
<rect x="583.5" y="261.00" width="6.3" height="7.00" fill="#fb35fb"/>
<rect x="583.5" y="268.00" width="6.3" height="3.00" fill="#f9378f"/>
<rect x="583.5" y="271.00" width="6.3" height="2.30" fill="#ef8727"/>
<rect x="583.5" y="273.30" width="6.3" height="15.90" fill="#f6fb3e"/>
<rect x="583.5" y="289.20" width="6.3" height="3.00" fill="#f4e1b5"/>
<rect x="583.5" y="292.20" width="6.3" height="19.70" fill="#f2b1c1"/>
<line x1="35.3" y1="35" x2="35.3" y2="296.4" stroke="#666" stroke-width="0.8"/>
<line x1="93.5" y1="35" x2="93.5" y2="144" stroke="#444" stroke-width="1"/>
<line x1="172.5" y1="35" x2="172.5" y2="191.3" stroke="#333" stroke-width="1"/>
<line x1="309.5" y1="35" x2="309.5" y2="241.5" stroke="#333" stroke-width="1"/>
<line x1="445.5" y1="35" x2="445.5" y2="291" stroke="#333" stroke-width="1"/>
<line x1="583.5" y1="35" x2="583.5" y2="312" stroke="#555" stroke-width="1"/>
<path d="M28.6,32.8 C25,32.8 23.4,33 23.4,36 L23.4,292.5 C23.4,295.5 25,295.6 28.6,295.6 M23.4,164 L19,164" stroke="#7f74f0" stroke-width="0.9" fill="none"/>
<path d="M593,35.3 C596,35.3 597.6,35.5 597.6,38 L597.6,128 C597.6,130.6 596,131 593,131 M597.6,83 L602.7,83" stroke="#7f74f0" stroke-width="0.9" fill="none"/>
<path d="M594.4,149.6 C597.6,149.6 599.2,150 599.2,152.5 L599.2,307.5 C599.2,310 597.6,310.4 594.4,310.4 M599.2,230.4 L603.6,230.4" stroke="#7f74f0" stroke-width="0.9" fill="none"/>
<line x1="227.7" y1="288" x2="271.7" y2="324.1" stroke="#777" stroke-width="0.9"/>
<circle cx="227.7" cy="288" r="2.4" fill="#808080"/>
<line x1="470.4" y1="274.3" x2="483.4" y2="326.3" stroke="#777" stroke-width="0.9"/>
<circle cx="470.4" cy="274.3" r="2.4" fill="#808080"/>
<line x1="103" y1="5.2" x2="524.5" y2="5.2" stroke="#222" stroke-width="1.25"/>
<path d="M519.8,2.2 L525,5.2 L519.8,8.2" stroke="#222" stroke-width="1.2" fill="none"/>
<text x="1.0" y="9.6" font-size="12.5" font-weight="bold" text-anchor="start" fill="#111">Production-based</text>
<text x="532.0" y="9.6" font-size="12.45" font-weight="bold" text-anchor="start" fill="#111">Consumption-based</text>
<text x="82.1" y="26.7" font-size="11" font-weight="bold" fill="#111">PL</text>
<path d="M98,21.7 C97.2,20.2 95.9,20.2 95.9,21.7 C95.9,23.2 97.2,23.2 98,21.7 C98.8,20.2 100.2,20.2 100.2,21.7 C100.2,23.2 98.8,23.2 98,21.7Z" stroke="#333" stroke-width="0.75" fill="none"/>
<line x1="100.3" y1="21.4" x2="107.2" y2="21.4" stroke="#555" stroke-width="0.6"/>
<path d="M105.6,20.3 L107.4,21.4 L105.6,22.5" stroke="#444" stroke-width="0.6" fill="none"/>
<text x="108.4" y="23.8" font-size="6.8" font-weight="bold" fill="#111">4</text>
<text x="168.2" y="26.7" font-size="11" font-weight="bold" fill="#111">PL<tspan font-size="7" dy="-4">3</tspan></text>
<text x="305.7" y="26.7" font-size="11" font-weight="bold" fill="#111">PL<tspan font-size="7" dy="-4">2</tspan></text>
<text x="442.2" y="26.7" font-size="11" font-weight="bold" fill="#111">PL<tspan font-size="7" dy="-4">1</tspan></text>
<text x="577.6" y="26.7" font-size="11" font-weight="bold" fill="#111">PL<tspan font-size="7" dy="-4">0</tspan></text>
<text transform="translate(12.2,164.2) rotate(-90)" font-size="10.6" font-weight="bold" text-anchor="middle" fill="#111">5.3Mt</text>
<text transform="translate(626.6,84.3) rotate(90)" font-size="10.2" font-weight="bold" text-anchor="middle" fill="#111">Exports as</text>
<text transform="translate(614.6,83.6) rotate(90)" font-size="10.2" font-weight="bold" text-anchor="middle" fill="#111">final products (2.1 Mt)</text>
<text transform="translate(626.6,230.6) rotate(90)" font-size="10.2" font-weight="bold" text-anchor="middle" fill="#111">Exports as</text>
<text transform="translate(614.6,231.3) rotate(90)" font-size="10.2" font-weight="bold" text-anchor="middle" fill="#111">intermediate products (3.4 Mt)</text>
<text x="277" y="322" font-size="10" text-anchor="start" fill="#222">Production-based emissions of each PL</text>
<text x="277" y="333.8" font-size="10" text-anchor="start" fill="#222">driven by exports</text>
<text x="489.4" y="324" font-size="10" text-anchor="start" fill="#222">Provincial emissions at upstream suppply chains</text>
<text x="489.4" y="335.9" font-size="10" text-anchor="start" fill="#222">driven by foreign countries’ further exports</text>
<text x="8.0" y="333.6" font-size="11.6" font-weight="bold" text-anchor="start" fill="#111">Units:</text>
<rect x="43.6" y="326.7" width="11.8" height="6.9" rx="0.6" fill="none" stroke="#111" stroke-width="0.95"/>
<path d="M59.2,326.7 Q60.9,326.7 60.9,328.2 L60.9,329.5 Q60.9,330.4 61.8,330.4 L63.9,330.4 M61.8,330.4 Q60.9,330.4 60.9,331.3 L60.9,332.8 Q60.9,334.4 59.2,334.4" stroke="#111" stroke-width="0.9" fill="none"/>
<text x="65.8" y="333.6" font-size="11.5" font-weight="bold" text-anchor="start" fill="#111">0.1 Mt</text>
<rect x="8.0" y="347.8" width="6.9" height="6.7" fill="#6ef4fb"/>
<text x="23.3" y="355.8" font-size="11" text-anchor="start" fill="#222">Beijing</text>
<rect x="81.3" y="347.8" width="6.9" height="6.7" fill="#eda33a"/>
<text x="96" y="355.8" font-size="11" text-anchor="start" fill="#222">Tianjin</text>
<rect x="148.2" y="347.8" width="6.9" height="6.7" fill="#a3f5a3"/>
<text x="161.8" y="355.8" font-size="11" text-anchor="start" fill="#222">Hebei</text>
<rect x="215.1" y="347.8" width="6.9" height="6.7" fill="#8e1212"/>
<text x="230" y="355.8" font-size="11" text-anchor="start" fill="#222">Shanxi</text>
<rect x="275.9" y="347.8" width="6.9" height="6.7" fill="#e8937a"/>
<text x="290.4" y="355.8" font-size="11" text-anchor="start" fill="#222">Inner Mongolia</text>
<rect x="368.0" y="347.8" width="6.9" height="6.7" fill="#a010fc"/>
<text x="382.7" y="355.8" font-size="11" text-anchor="start" fill="#222">Liaoning</text>
<rect x="449.7" y="347.8" width="6.9" height="6.7" fill="#99d8fa"/>
<text x="465.1" y="355.8" font-size="11" text-anchor="start" fill="#222">Jilin</text>
<rect x="512.0" y="347.8" width="6.9" height="6.7" fill="#6f9a32"/>
<text x="524.9" y="355.8" font-size="11" text-anchor="start" fill="#222">Heilongjiang</text>
<rect x="593.6" y="347.8" width="6.9" height="6.7" fill="#ede145"/>
<text x="608.9" y="355.8" font-size="11" text-anchor="start" fill="#222">Shanghai</text>
<rect x="8.0" y="365.8" width="6.9" height="6.7" fill="#ff2121"/>
<text x="23.3" y="373.6" font-size="11" text-anchor="start" fill="#222">Jiangsu</text>
<rect x="81.3" y="365.8" width="6.9" height="6.7" fill="#a3fbe6"/>
<text x="96" y="373.6" font-size="11" text-anchor="start" fill="#222">Zhejiang</text>
<rect x="148.2" y="365.8" width="6.9" height="6.7" fill="#cbab84"/>
<text x="161.8" y="373.6" font-size="11" text-anchor="start" fill="#222">Anhui</text>
<rect x="215.1" y="365.8" width="6.9" height="6.7" fill="#1717a6"/>
<text x="230" y="373.6" font-size="11" text-anchor="start" fill="#222">Fujian</text>
<rect x="275.9" y="365.8" width="6.9" height="6.7" fill="#e2e5fb"/>
<text x="290.4" y="373.6" font-size="11" text-anchor="start" fill="#222">Jiangxi</text>
<rect x="368.0" y="365.8" width="6.9" height="6.7" fill="#45fc0c"/>
<text x="382.7" y="373.6" font-size="11" text-anchor="start" fill="#222">Shandong</text>
<rect x="449.7" y="365.8" width="6.9" height="6.7" fill="#fb35fb"/>
<text x="465.1" y="373.6" font-size="11" text-anchor="start" fill="#222">Henan</text>
<rect x="512.0" y="365.8" width="6.9" height="6.7" fill="#f9378f"/>
<text x="527" y="373.6" font-size="11" text-anchor="start" fill="#222">Hubei</text>
<rect x="593.6" y="365.8" width="6.9" height="6.7" fill="#ef8727"/>
<text x="608.9" y="373.6" font-size="11" text-anchor="start" fill="#222">Hunan</text>
<rect x="8.0" y="384.1" width="6.9" height="6.7" fill="#f6fb3e"/>
<text x="23.3" y="392" font-size="11" text-anchor="start" fill="#222">Guangdong</text>
<rect x="81.3" y="384.1" width="6.9" height="6.7" fill="#f4e1b5"/>
<text x="96" y="392" font-size="11" text-anchor="start" fill="#222">Hainan</text>
<rect x="148.2" y="384.1" width="6.9" height="6.7" fill="#f2b1c1"/>
<text x="160.8" y="392" font-size="11" text-anchor="start" fill="#222">Western provinces</text>
</svg>
</body></html>
